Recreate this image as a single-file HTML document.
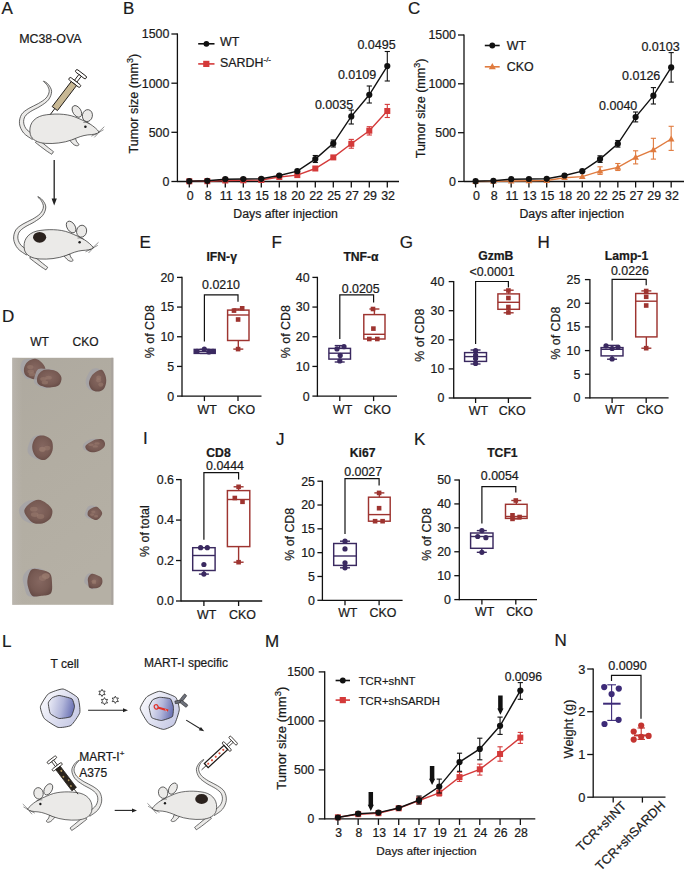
<!DOCTYPE html>
<html><head><meta charset="utf-8"><style>
html,body{margin:0;padding:0;background:#fff;}
svg{display:block;}
text{font-family:"Liberation Sans",sans-serif;stroke:#1a1a1a;stroke-width:0.22px;}
</style></head><body>
<svg width="685" height="871" viewBox="0 0 685 871" font-family="Liberation Sans, sans-serif">
<rect width="685" height="871" fill="#fff"/>

<defs>
<radialGradient id="tum" cx="0.5" cy="0.45" r="0.6">
  <stop offset="0" stop-color="#856760"/><stop offset="0.65" stop-color="#775a53"/><stop offset="1" stop-color="#654a45"/>
</radialGradient>
<linearGradient id="photo" x1="0" y1="0" x2="0.3" y2="1">
  <stop offset="0" stop-color="#aea99f"/><stop offset="0.5" stop-color="#b2ada2"/><stop offset="1" stop-color="#b5b0a5"/>
</linearGradient>
<linearGradient id="photoL" x1="0" y1="0" x2="1" y2="0">
  <stop offset="0" stop-color="#bdb8b2" stop-opacity="0.7"/><stop offset="1" stop-color="#bdb8b2" stop-opacity="0"/>
</linearGradient>
<linearGradient id="nuc" x1="0" y1="0" x2="1" y2="0.2">
  <stop offset="0" stop-color="#f0f1f9"/><stop offset="0.6" stop-color="#b2b6da"/><stop offset="1" stop-color="#7279b8"/>
</linearGradient>
<linearGradient id="cyt" x1="0" y1="0.2" x2="1" y2="0.8">
  <stop offset="0" stop-color="#fafafd"/><stop offset="1" stop-color="#c4c7e4"/>
</linearGradient>
</defs>
<g transform="translate(5.8,-115.6)">
  <path d="M29.44,250.96 C28.07,250.05 23.15,247.53 21.23,245.49 C19.32,243.45 18.27,240.98 17.93,238.73 C17.60,236.49 18.03,233.99 19.21,232.04 C20.39,230.08 22.46,228.70 24.99,227.00 C27.52,225.31 31.43,223.82 34.38,221.90 C37.32,219.97 40.76,217.93 42.66,215.45 C44.56,212.98 45.81,209.60 45.80,207.04 C45.79,204.49 43.89,201.85 42.58,200.11 C41.28,198.37 38.73,197.20 37.97,196.61 L37.63,196.99 C38.27,197.64 40.46,199.23 41.42,200.89 C42.38,202.55 43.58,204.85 43.40,206.96 C43.22,209.07 42.14,211.52 40.34,213.55 C38.54,215.57 35.51,217.36 32.62,219.10 C29.73,220.84 25.82,222.19 23.01,224.00 C20.21,225.80 17.35,227.42 15.79,229.96 C14.23,232.51 13.34,236.18 13.67,239.27 C14.00,242.36 15.62,245.88 17.77,248.51 C19.91,251.14 25.09,253.95 26.56,255.04 Z" fill="#ebeae8" stroke="#262626" stroke-width="0.7" stroke-linejoin="round"/>
  <path d="M29.69,258.14 C30.53,258.79 32.98,260.71 34.76,262.07 C36.54,263.43 38.54,264.97 40.39,266.28 C42.24,267.59 44.95,269.30 45.87,269.90 L47.73,267.30 C46.88,266.64 44.36,264.71 42.61,263.32 C40.86,261.93 38.96,260.34 37.24,258.93 C35.52,257.52 33.13,255.54 32.31,254.86 Z" fill="#ebeae8" stroke="#262626" stroke-width="0.7" stroke-linejoin="round"/>
  <path d="M63.5,255.5 C66,258 67.5,260.8 70.5,261.3 C73.2,261.7 73.8,259.8 72.2,258.8 C70.8,257.8 70.2,256 69.8,254 Z" fill="#ebeae8" stroke="#262626" stroke-width="0.7"/>
  <ellipse cx="71.1" cy="227" rx="4.0" ry="6.4" transform="rotate(-32 71.1 227)" fill="#ebeae8" stroke="#262626" stroke-width="0.7"/>
  <path d="M24.5,250 C22.5,241 27,233.5 37,231 C47,229 60,229 69,232.5 C75,235 80,237 84,239.5 C88,242 91.5,245 93.5,247.8 C91,249.8 87,250.2 82,250.5 C77,251 72,253 66,255.5 C58,258.5 48,259.5 40,259 C32,258.5 26,255.5 24.5,250 Z" fill="#ebeae8" stroke="#262626" stroke-width="0.7"/>
  <ellipse cx="81.6" cy="231.2" rx="5.0" ry="6.0" transform="rotate(12 81.6 231.2)" fill="#ebeae8" stroke="#262626" stroke-width="0.7"/>
  <path d="M77.5,238 C80,237.5 82.5,238.5 84,239.5" fill="none" stroke="#262626" stroke-width="0.5"/>
  <circle cx="79.6" cy="242.3" r="1.25" fill="#1a1a1a"/>
  <path d="M92.5,248 L98.5,242.3 M92.5,248.3 L97.8,245.3 M91.5,249 L85.5,251.8 M92,249.3 L88.5,253" stroke="#262626" stroke-width="0.5" fill="none"/>
</g>
<g transform="translate(81,74.2) rotate(127.3)">
  <rect x="-1.5" y="-6.5" width="3" height="13" rx="1.5" fill="#fff" stroke="#1e1a17" stroke-width="0.9"/>
  <rect x="1.5" y="-1.5" width="7.3" height="3" fill="#fff" stroke="#1e1a17" stroke-width="0.9"/>
  <rect x="8.8" y="-7" width="3" height="14" rx="1.5" fill="#fff" stroke="#1e1a17" stroke-width="0.9"/>
  <line x1="43" y1="0" x2="50.7" y2="0" stroke="#1e1a17" stroke-width="0.9"/>
<rect x="11.8" y="-3.3" width="31.4" height="6.6" fill="#c8b894" stroke="#1e1a17" stroke-width="0.9"/></g>
<polygon points="54.2,205.5 51.6,198.5 56.8,198.5" fill="#222"/>
<g>
  <path d="M29.44,250.96 C28.07,250.05 23.15,247.53 21.23,245.49 C19.32,243.45 18.27,240.98 17.93,238.73 C17.60,236.49 18.03,233.99 19.21,232.04 C20.39,230.08 22.46,228.70 24.99,227.00 C27.52,225.31 31.43,223.82 34.38,221.90 C37.32,219.97 40.76,217.93 42.66,215.45 C44.56,212.98 45.81,209.60 45.80,207.04 C45.79,204.49 43.89,201.85 42.58,200.11 C41.28,198.37 38.73,197.20 37.97,196.61 L37.63,196.99 C38.27,197.64 40.46,199.23 41.42,200.89 C42.38,202.55 43.58,204.85 43.40,206.96 C43.22,209.07 42.14,211.52 40.34,213.55 C38.54,215.57 35.51,217.36 32.62,219.10 C29.73,220.84 25.82,222.19 23.01,224.00 C20.21,225.80 17.35,227.42 15.79,229.96 C14.23,232.51 13.34,236.18 13.67,239.27 C14.00,242.36 15.62,245.88 17.77,248.51 C19.91,251.14 25.09,253.95 26.56,255.04 Z" fill="#ebeae8" stroke="#262626" stroke-width="0.7" stroke-linejoin="round"/>
  <path d="M29.69,258.14 C30.53,258.79 32.98,260.71 34.76,262.07 C36.54,263.43 38.54,264.97 40.39,266.28 C42.24,267.59 44.95,269.30 45.87,269.90 L47.73,267.30 C46.88,266.64 44.36,264.71 42.61,263.32 C40.86,261.93 38.96,260.34 37.24,258.93 C35.52,257.52 33.13,255.54 32.31,254.86 Z" fill="#ebeae8" stroke="#262626" stroke-width="0.7" stroke-linejoin="round"/>
  <path d="M63.5,255.5 C66,258 67.5,260.8 70.5,261.3 C73.2,261.7 73.8,259.8 72.2,258.8 C70.8,257.8 70.2,256 69.8,254 Z" fill="#ebeae8" stroke="#262626" stroke-width="0.7"/>
  <ellipse cx="71.1" cy="227" rx="4.0" ry="6.4" transform="rotate(-32 71.1 227)" fill="#ebeae8" stroke="#262626" stroke-width="0.7"/>
  <path d="M24.5,250 C22.5,241 27,233.5 37,231 C47,229 60,229 69,232.5 C75,235 80,237 84,239.5 C88,242 91.5,245 93.5,247.8 C91,249.8 87,250.2 82,250.5 C77,251 72,253 66,255.5 C58,258.5 48,259.5 40,259 C32,258.5 26,255.5 24.5,250 Z" fill="#ebeae8" stroke="#262626" stroke-width="0.7"/>
  <ellipse cx="81.6" cy="231.2" rx="5.0" ry="6.0" transform="rotate(12 81.6 231.2)" fill="#ebeae8" stroke="#262626" stroke-width="0.7"/>
  <path d="M77.5,238 C80,237.5 82.5,238.5 84,239.5" fill="none" stroke="#262626" stroke-width="0.5"/>
  <circle cx="79.6" cy="242.3" r="1.25" fill="#1a1a1a"/>
  <path d="M92.5,248 L98.5,242.3 M92.5,248.3 L97.8,245.3 M91.5,249 L85.5,251.8 M92,249.3 L88.5,253" stroke="#262626" stroke-width="0.5" fill="none"/>
</g>
<ellipse cx="39.6" cy="237.3" rx="6.6" ry="5.4" fill="#2b221e"/>
<rect x="12.3" y="357.8" width="101" height="247" fill="url(#photo)"/>
<rect x="12.3" y="357.8" width="10" height="247" fill="url(#photoL)"/>
<rect x="111.3" y="357.8" width="2" height="247" fill="#a9a39d"/>
<path d="M40.97,366.85 C41.22,369.15 41.39,371.87 40.29,373.63 C39.18,375.39 36.55,376.50 34.33,377.39 C32.12,378.28 29.01,379.63 27.00,378.97 C25.00,378.32 23.42,375.47 22.32,373.45 C21.21,371.44 20.17,369.13 20.37,366.89 C20.57,364.66 21.73,361.41 23.53,360.04 C25.32,358.66 28.59,358.67 31.13,358.64 C33.68,358.60 37.15,358.46 38.79,359.83 C40.43,361.20 40.72,364.55 40.97,366.85 Z" fill="#a4a3a8" opacity="0.8"/>
<path d="M45.15,367.81 C45.78,369.86 46.49,372.87 45.44,374.83 C44.40,376.79 41.25,378.93 38.87,379.55 C36.50,380.17 33.47,379.34 31.18,378.55 C28.89,377.76 26.33,376.55 25.15,374.81 C23.96,373.06 23.66,370.27 24.08,368.09 C24.50,365.92 25.82,363.32 27.67,361.78 C29.53,360.24 32.90,358.74 35.24,358.87 C37.57,358.99 40.03,361.04 41.69,362.53 C43.34,364.02 44.53,365.76 45.15,367.81 Z" fill="url(#tum)"/>
<ellipse cx="31.9" cy="374.2" rx="3.2" ry="2.0" fill="#9a7c70" opacity="0.55"/>
<ellipse cx="30.8" cy="371.6" rx="3.2" ry="2.0" fill="#9a7c70" opacity="0.55"/>
<ellipse cx="30.3" cy="367.1" rx="3.2" ry="2.0" fill="#9a7c70" opacity="0.55"/>
<path d="M56.97,376.89 C56.84,379.04 54.37,381.10 52.86,382.95 C51.34,384.80 49.96,387.33 47.90,387.99 C45.83,388.65 42.74,387.79 40.46,386.90 C38.19,386.01 35.18,384.53 34.26,382.63 C33.33,380.73 34.25,377.76 34.93,375.49 C35.61,373.23 36.50,370.15 38.34,369.05 C40.18,367.95 43.43,368.70 45.97,368.87 C48.51,369.03 51.76,368.70 53.59,370.04 C55.42,371.38 57.09,374.74 56.97,376.89 Z" fill="#a4a3a8" opacity="0.8"/>
<path d="M61.49,377.81 C61.80,380.01 60.82,383.37 59.15,384.94 C57.49,386.52 53.92,386.93 51.49,387.25 C49.06,387.57 46.86,387.51 44.59,386.88 C42.32,386.25 39.06,385.22 37.88,383.47 C36.70,381.72 36.77,378.51 37.52,376.39 C38.27,374.26 40.29,371.82 42.38,370.70 C44.47,369.58 47.59,369.48 50.07,369.66 C52.55,369.83 55.38,370.40 57.29,371.76 C59.19,373.12 61.18,375.61 61.49,377.81 Z" fill="url(#tum)"/>
<ellipse cx="48.6" cy="377.7" rx="3.2" ry="1.9" fill="#9a7c70" opacity="0.55"/>
<ellipse cx="44.9" cy="382.5" rx="3.2" ry="1.9" fill="#9a7c70" opacity="0.55"/>
<ellipse cx="43.4" cy="378.9" rx="3.2" ry="1.9" fill="#9a7c70" opacity="0.55"/>
<path d="M103.38,381.39 C102.94,383.97 101.94,387.30 100.45,388.88 C98.96,390.47 96.37,390.87 94.44,390.92 C92.50,390.97 90.29,390.58 88.82,389.19 C87.36,387.80 85.80,384.98 85.64,382.57 C85.47,380.16 86.70,376.99 87.81,374.73 C88.93,372.47 90.58,370.03 92.35,369.03 C94.13,368.02 96.66,367.96 98.45,368.69 C100.25,369.42 102.31,371.28 103.13,373.39 C103.95,375.51 103.83,378.81 103.38,381.39 Z" fill="#a4a3a8" opacity="0.8"/>
<path d="M106.12,382.43 C105.80,384.71 104.88,387.69 103.47,389.22 C102.05,390.75 99.57,391.49 97.64,391.59 C95.70,391.69 93.31,391.21 91.86,389.83 C90.41,388.46 89.03,385.58 88.94,383.34 C88.84,381.10 90.17,378.28 91.29,376.40 C92.41,374.51 93.91,373.15 95.63,372.04 C97.36,370.93 100.03,369.17 101.66,369.75 C103.29,370.34 104.67,373.43 105.41,375.54 C106.16,377.65 106.45,380.15 106.12,382.43 Z" fill="url(#tum)"/>
<ellipse cx="98.6" cy="380.2" rx="2.5" ry="2.2" fill="#9a7c70" opacity="0.55"/>
<ellipse cx="98.7" cy="377.8" rx="2.5" ry="2.2" fill="#9a7c70" opacity="0.55"/>
<ellipse cx="100.8" cy="384.6" rx="2.5" ry="2.2" fill="#9a7c70" opacity="0.55"/>
<path d="M50.14,447.30 C50.06,449.77 47.57,452.45 45.96,454.48 C44.35,456.52 42.57,458.95 40.49,459.52 C38.40,460.08 35.57,459.12 33.45,457.86 C31.32,456.60 28.47,454.38 27.75,451.95 C27.03,449.51 28.15,445.75 29.11,443.23 C30.07,440.72 31.59,438.20 33.49,436.84 C35.39,435.47 38.34,434.55 40.50,435.02 C42.65,435.49 44.82,437.61 46.43,439.65 C48.04,441.70 50.22,444.83 50.14,447.30 Z" fill="#a4a3a8" opacity="0.8"/>
<path d="M52.80,448.50 C52.58,451.03 51.53,453.56 50.12,455.48 C48.72,457.40 46.47,459.60 44.36,460.02 C42.25,460.45 39.31,459.34 37.46,458.03 C35.60,456.72 34.08,454.43 33.24,452.18 C32.40,449.92 31.87,447.01 32.41,444.49 C32.94,441.97 34.42,438.51 36.45,437.07 C38.47,435.62 42.05,435.29 44.55,435.83 C47.05,436.37 50.09,438.18 51.46,440.30 C52.84,442.41 53.03,445.97 52.80,448.50 Z" fill="url(#tum)"/>
<ellipse cx="42.0" cy="449.2" rx="3.1" ry="2.4" fill="#9a7c70" opacity="0.55"/>
<ellipse cx="47.2" cy="448.1" rx="3.1" ry="2.4" fill="#9a7c70" opacity="0.55"/>
<ellipse cx="42.6" cy="449.5" rx="3.1" ry="2.4" fill="#9a7c70" opacity="0.55"/>
<path d="M100.04,442.81 C100.45,444.12 101.51,445.86 100.67,447.01 C99.82,448.16 96.89,448.97 94.94,449.70 C92.99,450.43 90.81,451.44 88.97,451.39 C87.12,451.34 84.88,450.44 83.88,449.41 C82.87,448.37 82.46,446.52 82.94,445.17 C83.42,443.83 85.22,442.33 86.76,441.32 C88.30,440.31 90.28,439.46 92.18,439.10 C94.08,438.74 96.86,438.55 98.17,439.17 C99.48,439.79 99.62,441.51 100.04,442.81 Z" fill="#a4a3a8" opacity="0.8"/>
<path d="M104.95,442.97 C105.24,444.28 104.98,445.99 103.96,447.32 C102.93,448.65 100.81,450.13 98.79,450.95 C96.77,451.77 93.84,452.39 91.86,452.23 C89.89,452.06 87.99,451.02 86.92,449.97 C85.85,448.92 84.88,447.21 85.44,445.93 C86.00,444.65 88.58,443.34 90.28,442.29 C91.97,441.23 93.63,440.08 95.61,439.60 C97.60,439.13 100.65,438.87 102.21,439.43 C103.77,439.99 104.66,441.65 104.95,442.97 Z" fill="url(#tum)"/>
<ellipse cx="95.3" cy="446.4" rx="2.7" ry="1.2" fill="#9a7c70" opacity="0.55"/>
<ellipse cx="97.1" cy="443.4" rx="2.7" ry="1.2" fill="#9a7c70" opacity="0.55"/>
<ellipse cx="90.9" cy="444.8" rx="2.7" ry="1.2" fill="#9a7c70" opacity="0.55"/>
<path d="M47.32,508.74 C47.83,511.25 46.09,514.94 44.45,517.22 C42.82,519.50 40.12,521.53 37.50,522.44 C34.88,523.34 31.43,523.44 28.74,522.66 C26.06,521.88 22.99,520.03 21.40,517.76 C19.82,515.49 18.57,511.62 19.22,509.03 C19.87,506.44 22.94,503.76 25.30,502.24 C27.67,500.73 30.73,499.95 33.40,499.94 C36.08,499.93 39.04,500.71 41.36,502.18 C43.68,503.64 46.80,506.24 47.32,508.74 Z" fill="#a4a3a8" opacity="0.8"/>
<path d="M52.23,509.89 C52.86,512.41 52.04,516.26 50.39,518.51 C48.74,520.76 45.14,522.65 42.31,523.40 C39.48,524.14 35.85,523.92 33.41,522.99 C30.96,522.07 29.14,519.91 27.62,517.84 C26.10,515.76 23.95,512.94 24.29,510.56 C24.63,508.18 27.30,505.36 29.64,503.57 C31.97,501.78 35.48,499.84 38.31,499.81 C41.14,499.78 44.28,501.74 46.60,503.42 C48.92,505.10 51.60,507.37 52.23,509.89 Z" fill="url(#tum)"/>
<ellipse cx="34.7" cy="514.6" rx="3.8" ry="2.4" fill="#9a7c70" opacity="0.55"/>
<ellipse cx="40.5" cy="516.5" rx="3.8" ry="2.4" fill="#9a7c70" opacity="0.55"/>
<ellipse cx="33.8" cy="509.2" rx="3.8" ry="2.4" fill="#9a7c70" opacity="0.55"/>
<path d="M98.72,512.64 C98.65,514.16 98.83,516.08 97.95,517.06 C97.08,518.04 94.99,518.27 93.47,518.50 C91.94,518.74 90.23,519.04 88.80,518.49 C87.37,517.94 85.38,516.55 84.91,515.21 C84.45,513.87 85.43,511.96 86.02,510.45 C86.60,508.94 87.13,506.92 88.41,506.15 C89.68,505.37 92.00,505.50 93.65,505.79 C95.31,506.09 97.49,506.77 98.34,507.91 C99.18,509.05 98.78,511.12 98.72,512.64 Z" fill="#a4a3a8" opacity="0.8"/>
<path d="M102.18,513.30 C102.21,514.58 101.24,516.06 100.26,517.19 C99.29,518.31 97.79,519.83 96.35,520.04 C94.91,520.24 93.04,519.17 91.63,518.43 C90.23,517.69 88.47,516.80 87.89,515.58 C87.32,514.36 87.55,512.35 88.18,511.12 C88.81,509.88 90.29,508.91 91.65,508.19 C93.00,507.47 94.89,506.57 96.30,506.79 C97.71,507.01 99.13,508.44 100.11,509.53 C101.09,510.61 102.16,512.02 102.18,513.30 Z" fill="url(#tum)"/>
<ellipse cx="92.1" cy="514.6" rx="2.1" ry="1.3" fill="#9a7c70" opacity="0.55"/>
<ellipse cx="96.1" cy="516.2" rx="2.1" ry="1.3" fill="#9a7c70" opacity="0.55"/>
<ellipse cx="93.3" cy="511.7" rx="2.1" ry="1.3" fill="#9a7c70" opacity="0.55"/>
<path d="M47.79,581.58 C47.52,584.71 45.65,587.77 43.87,590.23 C42.09,592.69 39.78,595.46 37.10,596.33 C34.41,597.20 29.92,597.19 27.76,595.47 C25.61,593.74 24.96,589.12 24.16,585.99 C23.37,582.86 22.24,579.44 22.99,576.69 C23.74,573.93 26.35,570.92 28.67,569.48 C30.99,568.04 34.11,567.72 36.91,568.04 C39.70,568.37 43.63,569.17 45.44,571.43 C47.26,573.68 48.05,578.45 47.79,581.58 Z" fill="#a4a3a8" opacity="0.8"/>
<path d="M52.02,583.00 C52.15,586.26 52.64,591.02 50.90,593.14 C49.17,595.26 44.69,595.27 41.62,595.73 C38.55,596.19 34.71,597.29 32.47,595.90 C30.23,594.51 28.96,590.28 28.16,587.37 C27.36,584.46 27.03,581.46 27.67,578.44 C28.31,575.41 29.67,570.64 32.00,569.23 C34.33,567.82 38.65,569.27 41.66,569.99 C44.68,570.71 48.39,571.39 50.11,573.56 C51.84,575.73 51.89,579.74 52.02,583.00 Z" fill="url(#tum)"/>
<ellipse cx="45.7" cy="576.1" rx="3.8" ry="2.8" fill="#9a7c70" opacity="0.55"/>
<ellipse cx="42.7" cy="578.1" rx="3.8" ry="2.8" fill="#9a7c70" opacity="0.55"/>
<ellipse cx="46.0" cy="576.1" rx="3.8" ry="2.8" fill="#9a7c70" opacity="0.55"/>
<path d="M98.83,581.94 C98.54,583.70 98.39,585.96 97.25,587.17 C96.12,588.38 93.60,589.41 92.04,589.21 C90.48,589.01 89.19,587.12 87.90,585.96 C86.60,584.80 84.69,583.78 84.28,582.25 C83.87,580.72 84.59,578.28 85.47,576.79 C86.34,575.29 88.06,573.68 89.55,573.28 C91.03,572.88 92.79,573.85 94.36,574.40 C95.94,574.95 98.23,575.32 98.98,576.58 C99.72,577.83 99.12,580.17 98.83,581.94 Z" fill="#a4a3a8" opacity="0.8"/>
<path d="M102.32,582.83 C102.00,584.39 100.87,586.17 99.62,587.10 C98.37,588.02 96.53,588.25 94.83,588.35 C93.14,588.46 90.57,588.69 89.45,587.73 C88.33,586.78 88.35,584.29 88.13,582.62 C87.90,580.95 87.49,579.19 88.12,577.71 C88.74,576.24 90.38,574.18 91.88,573.76 C93.39,573.33 95.53,574.51 97.14,575.17 C98.75,575.83 100.67,576.45 101.53,577.73 C102.40,579.00 102.63,581.26 102.32,582.83 Z" fill="url(#tum)"/>
<ellipse cx="93.7" cy="581.4" rx="2.2" ry="1.5" fill="#9a7c70" opacity="0.55"/>
<ellipse cx="94.2" cy="581.1" rx="2.2" ry="1.5" fill="#9a7c70" opacity="0.55"/>
<ellipse cx="94.1" cy="582.7" rx="2.2" ry="1.5" fill="#9a7c70" opacity="0.55"/>
<path d="M63.10,689.00 C65.56,689.33 76.41,695.83 77.80,697.80 C79.19,699.77 80.37,710.30 79.80,712.60 C79.23,714.90 72.81,724.17 71.00,725.40 C69.19,726.63 60.33,727.98 58.10,727.40 C55.88,726.82 45.77,720.23 44.30,718.50 C42.82,716.77 40.07,708.75 40.40,706.70 C40.73,704.65 46.41,695.38 48.30,693.90 C50.19,692.42 60.64,688.67 63.10,689.00 Z" fill="url(#cyt)" stroke="#2e2e2e" stroke-width="0.85"/>
<path d="M59.10,695.50 C60.51,695.57 70.80,698.00 71.90,698.80 C73.00,699.60 74.56,705.43 74.50,706.70 C74.44,707.97 72.10,715.76 71.00,716.60 C69.90,717.44 60.58,718.71 59.10,718.50 C57.62,718.29 51.07,714.72 50.30,713.60 C49.53,712.48 48.16,703.93 48.30,702.80 C48.44,701.67 51.43,698.32 52.20,697.80 C52.97,697.28 57.69,695.43 59.10,695.50 Z" fill="url(#nuc)" stroke="#2e2e2e" stroke-width="0.85"/>
<path d="M159.60,691.30 C162.01,691.33 174.06,695.77 175.70,697.30 C177.34,698.83 179.42,707.43 179.30,709.70 C179.18,711.97 175.62,722.86 174.30,724.50 C172.98,726.14 165.63,729.48 163.50,729.40 C161.37,729.32 150.64,725.23 148.70,723.50 C146.76,721.77 140.36,710.92 140.20,708.70 C140.04,706.48 145.18,698.35 146.80,696.90 C148.42,695.45 157.19,691.27 159.60,691.30 Z" fill="url(#cyt)" stroke="#2e2e2e" stroke-width="0.85"/>
<path d="M159.60,697.30 C160.86,697.23 169.41,698.13 170.40,698.80 C171.39,699.47 173.26,705.43 173.40,706.70 C173.54,707.97 173.25,715.61 172.40,716.60 C171.55,717.59 162.98,720.43 161.50,720.50 C160.02,720.57 152.59,718.59 151.70,717.60 C150.81,716.61 149.03,707.97 149.10,706.70 C149.17,705.43 151.95,700.47 152.70,699.80 C153.45,699.13 158.34,697.37 159.60,697.30 Z" fill="url(#nuc)" stroke="#2e2e2e" stroke-width="0.85"/>
<ellipse cx="156.2" cy="706.9" rx="1.9" ry="2.3" transform="rotate(-20 156.2 706.9)" fill="none" stroke="#e0322a" stroke-width="1.2"/>
<path d="M157.8,707.6 L168.2,710.6" stroke="#e0322a" stroke-width="2.1" fill="none"/>
<path d="M165.5,709.2 L166.5,711.5" stroke="#fff" stroke-width="0.5" fill="none"/>
<g stroke="#2a2a2a" stroke-width="0.6" fill="#6d717c"><rect x="-0.5" y="-1.3" width="6" height="2.6" transform="translate(175.6,702.3) rotate(-10)"/><rect x="0" y="-1.5" width="8.2" height="3" rx="0.8" transform="translate(180.6,701.2) rotate(-52)"/><rect x="0" y="-1.5" width="8.2" height="3" rx="0.8" transform="translate(180.6,701.2) rotate(38)"/></g>
<polygon points="102.00,689.30 102.99,691.19 105.12,691.10 103.98,692.90 105.12,694.70 102.99,694.61 102.00,696.50 101.01,694.61 98.88,694.70 100.02,692.90 98.88,691.10 101.01,691.19" fill="#fff" stroke="#222" stroke-width="0.8"/>
<polygon points="104.50,697.60 105.49,699.49 107.62,699.40 106.48,701.20 107.62,703.00 105.49,702.91 104.50,704.80 103.51,702.91 101.38,703.00 102.52,701.20 101.38,699.40 103.51,699.49" fill="#fff" stroke="#222" stroke-width="0.8"/>
<polygon points="115.30,696.20 116.29,698.09 118.42,698.00 117.28,699.80 118.42,701.60 116.29,701.51 115.30,703.40 114.31,701.51 112.18,701.60 113.32,699.80 112.18,698.00 114.31,698.09" fill="#fff" stroke="#222" stroke-width="0.8"/>
<polygon points="128,710.3 123,708.3 123,712.3" fill="#222"/>
<polygon points="204.2,731.2 198.8,730.3 200.9,726.9" fill="#222"/>
<g transform="translate(114.4,571.4) scale(-0.93,0.96)">
  <path d="M29.44,250.96 C28.07,250.05 23.15,247.53 21.23,245.49 C19.32,243.45 18.27,240.98 17.93,238.73 C17.60,236.49 18.03,233.99 19.21,232.04 C20.39,230.08 22.46,228.70 24.99,227.00 C27.52,225.31 31.43,223.82 34.38,221.90 C37.32,219.97 40.76,217.93 42.66,215.45 C44.56,212.98 45.81,209.60 45.80,207.04 C45.79,204.49 43.89,201.85 42.58,200.11 C41.28,198.37 38.73,197.20 37.97,196.61 L37.63,196.99 C38.27,197.64 40.46,199.23 41.42,200.89 C42.38,202.55 43.58,204.85 43.40,206.96 C43.22,209.07 42.14,211.52 40.34,213.55 C38.54,215.57 35.51,217.36 32.62,219.10 C29.73,220.84 25.82,222.19 23.01,224.00 C20.21,225.80 17.35,227.42 15.79,229.96 C14.23,232.51 13.34,236.18 13.67,239.27 C14.00,242.36 15.62,245.88 17.77,248.51 C19.91,251.14 25.09,253.95 26.56,255.04 Z" fill="#ebeae8" stroke="#262626" stroke-width="0.7" stroke-linejoin="round"/>
  <path d="M29.69,258.14 C30.53,258.79 32.98,260.71 34.76,262.07 C36.54,263.43 38.54,264.97 40.39,266.28 C42.24,267.59 44.95,269.30 45.87,269.90 L47.73,267.30 C46.88,266.64 44.36,264.71 42.61,263.32 C40.86,261.93 38.96,260.34 37.24,258.93 C35.52,257.52 33.13,255.54 32.31,254.86 Z" fill="#ebeae8" stroke="#262626" stroke-width="0.7" stroke-linejoin="round"/>
  <path d="M63.5,255.5 C66,258 67.5,260.8 70.5,261.3 C73.2,261.7 73.8,259.8 72.2,258.8 C70.8,257.8 70.2,256 69.8,254 Z" fill="#ebeae8" stroke="#262626" stroke-width="0.7"/>
  <ellipse cx="71.1" cy="227" rx="4.0" ry="6.4" transform="rotate(-32 71.1 227)" fill="#ebeae8" stroke="#262626" stroke-width="0.7"/>
  <path d="M24.5,250 C22.5,241 27,233.5 37,231 C47,229 60,229 69,232.5 C75,235 80,237 84,239.5 C88,242 91.5,245 93.5,247.8 C91,249.8 87,250.2 82,250.5 C77,251 72,253 66,255.5 C58,258.5 48,259.5 40,259 C32,258.5 26,255.5 24.5,250 Z" fill="#ebeae8" stroke="#262626" stroke-width="0.7"/>
  <ellipse cx="81.6" cy="231.2" rx="5.0" ry="6.0" transform="rotate(12 81.6 231.2)" fill="#ebeae8" stroke="#262626" stroke-width="0.7"/>
  <path d="M77.5,238 C80,237.5 82.5,238.5 84,239.5" fill="none" stroke="#262626" stroke-width="0.5"/>
  <circle cx="79.6" cy="242.3" r="1.25" fill="#1a1a1a"/>
  <path d="M92.5,248 L98.5,242.3 M92.5,248.3 L97.8,245.3 M91.5,249 L85.5,251.8 M92,249.3 L88.5,253" stroke="#262626" stroke-width="0.5" fill="none"/>
</g>
<g transform="translate(51.9,759.9) rotate(52.7) scale(0.85)">
  <rect x="-1.5" y="-6.5" width="3" height="13" rx="1.5" fill="#fff" stroke="#1e1a17" stroke-width="0.9"/>
  <rect x="1.5" y="-1.5" width="7.3" height="3" fill="#fff" stroke="#1e1a17" stroke-width="0.9"/>
  <rect x="8.8" y="-7" width="3" height="14" rx="1.5" fill="#fff" stroke="#1e1a17" stroke-width="0.9"/>
  <line x1="43" y1="0" x2="50.7" y2="0" stroke="#1e1a17" stroke-width="0.9"/>
<rect x="11.8" y="-3.3" width="31.4" height="6.6" fill="#2b241c" stroke="#1e1a17" stroke-width="0.9"/><circle cx="17" cy="-1" r="1.2" fill="#b59a62"/><circle cx="24" cy="1.3" r="1.1" fill="#b59a62"/><circle cx="31" cy="-1.2" r="1" fill="#b59a62"/><circle cx="38" cy="0.8" r="1.1" fill="#b59a62"/></g>
<g transform="translate(239.0,570.7) scale(-0.93,0.96)">
  <path d="M29.44,250.96 C28.07,250.05 23.15,247.53 21.23,245.49 C19.32,243.45 18.27,240.98 17.93,238.73 C17.60,236.49 18.03,233.99 19.21,232.04 C20.39,230.08 22.46,228.70 24.99,227.00 C27.52,225.31 31.43,223.82 34.38,221.90 C37.32,219.97 40.76,217.93 42.66,215.45 C44.56,212.98 45.81,209.60 45.80,207.04 C45.79,204.49 43.89,201.85 42.58,200.11 C41.28,198.37 38.73,197.20 37.97,196.61 L37.63,196.99 C38.27,197.64 40.46,199.23 41.42,200.89 C42.38,202.55 43.58,204.85 43.40,206.96 C43.22,209.07 42.14,211.52 40.34,213.55 C38.54,215.57 35.51,217.36 32.62,219.10 C29.73,220.84 25.82,222.19 23.01,224.00 C20.21,225.80 17.35,227.42 15.79,229.96 C14.23,232.51 13.34,236.18 13.67,239.27 C14.00,242.36 15.62,245.88 17.77,248.51 C19.91,251.14 25.09,253.95 26.56,255.04 Z" fill="#ebeae8" stroke="#262626" stroke-width="0.7" stroke-linejoin="round"/>
  <path d="M29.69,258.14 C30.53,258.79 32.98,260.71 34.76,262.07 C36.54,263.43 38.54,264.97 40.39,266.28 C42.24,267.59 44.95,269.30 45.87,269.90 L47.73,267.30 C46.88,266.64 44.36,264.71 42.61,263.32 C40.86,261.93 38.96,260.34 37.24,258.93 C35.52,257.52 33.13,255.54 32.31,254.86 Z" fill="#ebeae8" stroke="#262626" stroke-width="0.7" stroke-linejoin="round"/>
  <path d="M63.5,255.5 C66,258 67.5,260.8 70.5,261.3 C73.2,261.7 73.8,259.8 72.2,258.8 C70.8,257.8 70.2,256 69.8,254 Z" fill="#ebeae8" stroke="#262626" stroke-width="0.7"/>
  <ellipse cx="71.1" cy="227" rx="4.0" ry="6.4" transform="rotate(-32 71.1 227)" fill="#ebeae8" stroke="#262626" stroke-width="0.7"/>
  <path d="M24.5,250 C22.5,241 27,233.5 37,231 C47,229 60,229 69,232.5 C75,235 80,237 84,239.5 C88,242 91.5,245 93.5,247.8 C91,249.8 87,250.2 82,250.5 C77,251 72,253 66,255.5 C58,258.5 48,259.5 40,259 C32,258.5 26,255.5 24.5,250 Z" fill="#ebeae8" stroke="#262626" stroke-width="0.7"/>
  <ellipse cx="81.6" cy="231.2" rx="5.0" ry="6.0" transform="rotate(12 81.6 231.2)" fill="#ebeae8" stroke="#262626" stroke-width="0.7"/>
  <path d="M77.5,238 C80,237.5 82.5,238.5 84,239.5" fill="none" stroke="#262626" stroke-width="0.5"/>
  <circle cx="79.6" cy="242.3" r="1.25" fill="#1a1a1a"/>
  <path d="M92.5,248 L98.5,242.3 M92.5,248.3 L97.8,245.3 M91.5,249 L85.5,251.8 M92,249.3 L88.5,253" stroke="#262626" stroke-width="0.5" fill="none"/>
</g>
<ellipse cx="201.6" cy="799" rx="6.4" ry="5.1" fill="#2b221e"/>
<g transform="translate(233.2,740.6) rotate(137.2) scale(0.85)">
  <rect x="-1.5" y="-6.5" width="3" height="13" rx="1.5" fill="#fff" stroke="#1e1a17" stroke-width="0.9"/>
  <rect x="1.5" y="-1.5" width="7.3" height="3" fill="#fff" stroke="#1e1a17" stroke-width="0.9"/>
  <rect x="8.8" y="-7" width="3" height="14" rx="1.5" fill="#fff" stroke="#1e1a17" stroke-width="0.9"/>
  <line x1="43" y1="0" x2="50.7" y2="0" stroke="#1e1a17" stroke-width="0.9"/>
<rect x="11.8" y="-3.3" width="31.4" height="6.6" fill="#fff" stroke="#1e1a17" stroke-width="1.5"/><circle cx="16" cy="0" r="1.3" fill="#e0533f"/><circle cx="22" cy="0" r="1.3" fill="#e0533f"/><circle cx="28" cy="0" r="1.3" fill="#e0533f"/><circle cx="34" cy="0" r="1.3" fill="#e0533f"/><circle cx="40" cy="0" r="1.3" fill="#e0533f"/></g>
<polygon points="137,810.4 132,808.4 132,812.4" fill="#222"/>
<text x="1.50" y="13.90" font-size="17" text-anchor="start" fill="#1a1a1a">A</text>
<text x="123.00" y="14.20" font-size="17" text-anchor="start" fill="#1a1a1a">B</text>
<text x="408.00" y="14.20" font-size="17" text-anchor="start" fill="#1a1a1a">C</text>
<text x="2.00" y="322.40" font-size="17" text-anchor="start" fill="#1a1a1a">D</text>
<text x="139.50" y="247.90" font-size="17" text-anchor="start" fill="#1a1a1a">E</text>
<text x="271.50" y="247.90" font-size="17" text-anchor="start" fill="#1a1a1a">F</text>
<text x="399.80" y="247.90" font-size="17" text-anchor="start" fill="#1a1a1a">G</text>
<text x="537.60" y="247.90" font-size="17" text-anchor="start" fill="#1a1a1a">H</text>
<text x="143.00" y="443.50" font-size="17" text-anchor="start" fill="#1a1a1a">I</text>
<text x="276.00" y="444.70" font-size="17" text-anchor="start" fill="#1a1a1a">J</text>
<text x="414.00" y="444.70" font-size="17" text-anchor="start" fill="#1a1a1a">K</text>
<text x="2.00" y="646.60" font-size="17" text-anchor="start" fill="#1a1a1a">L</text>
<text x="265.00" y="646.50" font-size="17" text-anchor="start" fill="#1a1a1a">M</text>
<text x="554.50" y="646.00" font-size="17" text-anchor="start" fill="#1a1a1a">N</text>
<line x1="177.40" y1="33.40" x2="177.40" y2="182.10" stroke="#111111" stroke-width="1.3"/>
<line x1="171.40" y1="34.00" x2="177.40" y2="34.00" stroke="#111111" stroke-width="1.3"/>
<text x="169.40" y="38.40" font-size="12.4" text-anchor="end" fill="#1a1a1a">1500</text>
<line x1="171.40" y1="83.20" x2="177.40" y2="83.20" stroke="#111111" stroke-width="1.3"/>
<text x="169.40" y="87.60" font-size="12.4" text-anchor="end" fill="#1a1a1a">1000</text>
<line x1="171.40" y1="132.30" x2="177.40" y2="132.30" stroke="#111111" stroke-width="1.3"/>
<text x="169.40" y="136.70" font-size="12.4" text-anchor="end" fill="#1a1a1a">500</text>
<line x1="171.40" y1="181.50" x2="177.40" y2="181.50" stroke="#111111" stroke-width="1.3"/>
<text x="169.40" y="185.90" font-size="12.4" text-anchor="end" fill="#1a1a1a">0</text>
<line x1="177.40" y1="181.50" x2="399.00" y2="181.50" stroke="#111111" stroke-width="1.3"/>
<line x1="189.30" y1="181.50" x2="189.30" y2="187.50" stroke="#111111" stroke-width="1.3"/>
<text x="190.10" y="200.20" font-size="12.4" text-anchor="middle" fill="#1a1a1a">0</text>
<line x1="207.30" y1="181.50" x2="207.30" y2="187.50" stroke="#111111" stroke-width="1.3"/>
<text x="208.10" y="200.20" font-size="12.4" text-anchor="middle" fill="#1a1a1a">8</text>
<line x1="225.30" y1="181.50" x2="225.30" y2="187.50" stroke="#111111" stroke-width="1.3"/>
<text x="226.10" y="200.20" font-size="12.4" text-anchor="middle" fill="#1a1a1a">11</text>
<line x1="243.30" y1="181.50" x2="243.30" y2="187.50" stroke="#111111" stroke-width="1.3"/>
<text x="244.10" y="200.20" font-size="12.4" text-anchor="middle" fill="#1a1a1a">13</text>
<line x1="261.30" y1="181.50" x2="261.30" y2="187.50" stroke="#111111" stroke-width="1.3"/>
<text x="262.10" y="200.20" font-size="12.4" text-anchor="middle" fill="#1a1a1a">15</text>
<line x1="279.30" y1="181.50" x2="279.30" y2="187.50" stroke="#111111" stroke-width="1.3"/>
<text x="280.10" y="200.20" font-size="12.4" text-anchor="middle" fill="#1a1a1a">18</text>
<line x1="297.30" y1="181.50" x2="297.30" y2="187.50" stroke="#111111" stroke-width="1.3"/>
<text x="298.10" y="200.20" font-size="12.4" text-anchor="middle" fill="#1a1a1a">20</text>
<line x1="315.30" y1="181.50" x2="315.30" y2="187.50" stroke="#111111" stroke-width="1.3"/>
<text x="316.10" y="200.20" font-size="12.4" text-anchor="middle" fill="#1a1a1a">22</text>
<line x1="333.30" y1="181.50" x2="333.30" y2="187.50" stroke="#111111" stroke-width="1.3"/>
<text x="334.10" y="200.20" font-size="12.4" text-anchor="middle" fill="#1a1a1a">25</text>
<line x1="351.30" y1="181.50" x2="351.30" y2="187.50" stroke="#111111" stroke-width="1.3"/>
<text x="352.10" y="200.20" font-size="12.4" text-anchor="middle" fill="#1a1a1a">27</text>
<line x1="369.30" y1="181.50" x2="369.30" y2="187.50" stroke="#111111" stroke-width="1.3"/>
<text x="370.10" y="200.20" font-size="12.4" text-anchor="middle" fill="#1a1a1a">29</text>
<line x1="387.30" y1="181.50" x2="387.30" y2="187.50" stroke="#111111" stroke-width="1.3"/>
<text x="388.10" y="200.20" font-size="12.4" text-anchor="middle" fill="#1a1a1a">32</text>
<text x="138.30" y="103.60" font-size="12.6" text-anchor="middle" fill="#1a1a1a" transform="rotate(-90 138.30 103.60)">Tumor size (mm<tspan font-size="9" dy="-5">3</tspan><tspan dy="5">)</tspan></text>
<text x="285.60" y="218.00" font-size="12.3" text-anchor="middle" fill="#1a1a1a">Days after injection</text>
<polyline points="189.30,181.30 207.30,181.20 225.30,180.50 243.30,180.30 261.30,180.00 279.30,177.00 297.30,175.10 315.30,168.50 333.30,157.40 351.30,143.80 369.30,130.70 387.30,111.00" stroke="#d43a3a" stroke-width="1.4" fill="none"/>
<line x1="351.30" y1="139.40" x2="351.30" y2="148.20" stroke="#d43a3a" stroke-width="1.1"/>
<line x1="348.70" y1="139.40" x2="353.90" y2="139.40" stroke="#d43a3a" stroke-width="1.1"/>
<line x1="348.70" y1="148.20" x2="353.90" y2="148.20" stroke="#d43a3a" stroke-width="1.1"/>
<line x1="369.30" y1="126.70" x2="369.30" y2="135.00" stroke="#d43a3a" stroke-width="1.1"/>
<line x1="366.70" y1="126.70" x2="371.90" y2="126.70" stroke="#d43a3a" stroke-width="1.1"/>
<line x1="366.70" y1="135.00" x2="371.90" y2="135.00" stroke="#d43a3a" stroke-width="1.1"/>
<line x1="387.30" y1="104.40" x2="387.30" y2="117.50" stroke="#d43a3a" stroke-width="1.1"/>
<line x1="384.70" y1="104.40" x2="389.90" y2="104.40" stroke="#d43a3a" stroke-width="1.1"/>
<line x1="384.70" y1="117.50" x2="389.90" y2="117.50" stroke="#d43a3a" stroke-width="1.1"/>
<rect x="186.30" y="178.30" width="6.00" height="6.00" stroke="none" stroke-width="1" fill="#d43a3a"/>
<rect x="204.30" y="178.20" width="6.00" height="6.00" stroke="none" stroke-width="1" fill="#d43a3a"/>
<rect x="222.30" y="177.50" width="6.00" height="6.00" stroke="none" stroke-width="1" fill="#d43a3a"/>
<rect x="240.30" y="177.30" width="6.00" height="6.00" stroke="none" stroke-width="1" fill="#d43a3a"/>
<rect x="258.30" y="177.00" width="6.00" height="6.00" stroke="none" stroke-width="1" fill="#d43a3a"/>
<rect x="276.30" y="174.00" width="6.00" height="6.00" stroke="none" stroke-width="1" fill="#d43a3a"/>
<rect x="294.30" y="172.10" width="6.00" height="6.00" stroke="none" stroke-width="1" fill="#d43a3a"/>
<rect x="312.30" y="165.50" width="6.00" height="6.00" stroke="none" stroke-width="1" fill="#d43a3a"/>
<rect x="330.30" y="154.40" width="6.00" height="6.00" stroke="none" stroke-width="1" fill="#d43a3a"/>
<rect x="348.30" y="140.80" width="6.00" height="6.00" stroke="none" stroke-width="1" fill="#d43a3a"/>
<rect x="366.30" y="127.70" width="6.00" height="6.00" stroke="none" stroke-width="1" fill="#d43a3a"/>
<rect x="384.30" y="108.00" width="6.00" height="6.00" stroke="none" stroke-width="1" fill="#d43a3a"/>
<polyline points="189.30,181.20 207.30,180.80 225.30,179.20 243.30,179.00 261.30,178.80 279.30,175.50 297.30,171.20 315.30,159.10 333.30,143.40 351.30,116.40 369.30,94.80 387.30,66.10" stroke="#111111" stroke-width="1.4" fill="none"/>
<line x1="315.30" y1="155.50" x2="315.30" y2="162.50" stroke="#111111" stroke-width="1.1"/>
<line x1="312.70" y1="155.50" x2="317.90" y2="155.50" stroke="#111111" stroke-width="1.1"/>
<line x1="312.70" y1="162.50" x2="317.90" y2="162.50" stroke="#111111" stroke-width="1.1"/>
<line x1="333.30" y1="140.00" x2="333.30" y2="147.00" stroke="#111111" stroke-width="1.1"/>
<line x1="330.70" y1="140.00" x2="335.90" y2="140.00" stroke="#111111" stroke-width="1.1"/>
<line x1="330.70" y1="147.00" x2="335.90" y2="147.00" stroke="#111111" stroke-width="1.1"/>
<line x1="351.30" y1="110.00" x2="351.30" y2="124.00" stroke="#111111" stroke-width="1.1"/>
<line x1="348.70" y1="110.00" x2="353.90" y2="110.00" stroke="#111111" stroke-width="1.1"/>
<line x1="348.70" y1="124.00" x2="353.90" y2="124.00" stroke="#111111" stroke-width="1.1"/>
<line x1="369.30" y1="86.00" x2="369.30" y2="103.00" stroke="#111111" stroke-width="1.1"/>
<line x1="366.70" y1="86.00" x2="371.90" y2="86.00" stroke="#111111" stroke-width="1.1"/>
<line x1="366.70" y1="103.00" x2="371.90" y2="103.00" stroke="#111111" stroke-width="1.1"/>
<line x1="387.30" y1="51.50" x2="387.30" y2="81.00" stroke="#111111" stroke-width="1.1"/>
<line x1="384.70" y1="51.50" x2="389.90" y2="51.50" stroke="#111111" stroke-width="1.1"/>
<line x1="384.70" y1="81.00" x2="389.90" y2="81.00" stroke="#111111" stroke-width="1.1"/>
<circle cx="189.30" cy="181.20" r="3.10" fill="#111111" stroke="none" stroke-width="0"/>
<circle cx="207.30" cy="180.80" r="3.10" fill="#111111" stroke="none" stroke-width="0"/>
<circle cx="225.30" cy="179.20" r="3.10" fill="#111111" stroke="none" stroke-width="0"/>
<circle cx="243.30" cy="179.00" r="3.10" fill="#111111" stroke="none" stroke-width="0"/>
<circle cx="261.30" cy="178.80" r="3.10" fill="#111111" stroke="none" stroke-width="0"/>
<circle cx="279.30" cy="175.50" r="3.10" fill="#111111" stroke="none" stroke-width="0"/>
<circle cx="297.30" cy="171.20" r="3.10" fill="#111111" stroke="none" stroke-width="0"/>
<circle cx="315.30" cy="159.10" r="3.10" fill="#111111" stroke="none" stroke-width="0"/>
<circle cx="333.30" cy="143.40" r="3.10" fill="#111111" stroke="none" stroke-width="0"/>
<circle cx="351.30" cy="116.40" r="3.10" fill="#111111" stroke="none" stroke-width="0"/>
<circle cx="369.30" cy="94.80" r="3.10" fill="#111111" stroke="none" stroke-width="0"/>
<circle cx="387.30" cy="66.10" r="3.10" fill="#111111" stroke="none" stroke-width="0"/>
<line x1="198.20" y1="43.80" x2="214.50" y2="43.80" stroke="#111111" stroke-width="1.6"/>
<circle cx="206.40" cy="43.80" r="2.90" fill="#111111" stroke="none" stroke-width="0"/>
<text x="220.10" y="46.30" font-size="12.4" text-anchor="start" fill="#1a1a1a">WT</text>
<line x1="198.20" y1="63.90" x2="214.50" y2="63.90" stroke="#d43a3a" stroke-width="1.6"/>
<rect x="203.20" y="60.80" width="6.20" height="6.20" stroke="none" stroke-width="1" fill="#d43a3a"/>
<text x="220.10" y="66.60" font-size="12.4" text-anchor="start" fill="#1a1a1a">SARDH<tspan font-size="8" dy="-5">-/-</tspan></text>
<text x="376.50" y="48.80" font-size="12.5" text-anchor="middle" fill="#1a1a1a">0.0495</text>
<text x="357.00" y="79.20" font-size="12.5" text-anchor="middle" fill="#1a1a1a">0.0109</text>
<text x="334.00" y="109.20" font-size="12.5" text-anchor="middle" fill="#1a1a1a">0.0035</text>
<line x1="464.00" y1="34.40" x2="464.00" y2="182.10" stroke="#111111" stroke-width="1.3"/>
<line x1="458.00" y1="35.00" x2="464.00" y2="35.00" stroke="#111111" stroke-width="1.3"/>
<text x="456.00" y="39.40" font-size="12.4" text-anchor="end" fill="#1a1a1a">1500</text>
<line x1="458.00" y1="83.80" x2="464.00" y2="83.80" stroke="#111111" stroke-width="1.3"/>
<text x="456.00" y="88.20" font-size="12.4" text-anchor="end" fill="#1a1a1a">1000</text>
<line x1="458.00" y1="132.70" x2="464.00" y2="132.70" stroke="#111111" stroke-width="1.3"/>
<text x="456.00" y="137.10" font-size="12.4" text-anchor="end" fill="#1a1a1a">500</text>
<line x1="458.00" y1="181.50" x2="464.00" y2="181.50" stroke="#111111" stroke-width="1.3"/>
<text x="456.00" y="185.90" font-size="12.4" text-anchor="end" fill="#1a1a1a">0</text>
<line x1="464.00" y1="181.50" x2="684.00" y2="181.50" stroke="#111111" stroke-width="1.3"/>
<line x1="475.60" y1="181.50" x2="475.60" y2="187.50" stroke="#111111" stroke-width="1.3"/>
<text x="476.40" y="200.20" font-size="12.4" text-anchor="middle" fill="#1a1a1a">0</text>
<line x1="493.38" y1="181.50" x2="493.38" y2="187.50" stroke="#111111" stroke-width="1.3"/>
<text x="494.18" y="200.20" font-size="12.4" text-anchor="middle" fill="#1a1a1a">8</text>
<line x1="511.16" y1="181.50" x2="511.16" y2="187.50" stroke="#111111" stroke-width="1.3"/>
<text x="511.96" y="200.20" font-size="12.4" text-anchor="middle" fill="#1a1a1a">11</text>
<line x1="528.94" y1="181.50" x2="528.94" y2="187.50" stroke="#111111" stroke-width="1.3"/>
<text x="529.74" y="200.20" font-size="12.4" text-anchor="middle" fill="#1a1a1a">13</text>
<line x1="546.72" y1="181.50" x2="546.72" y2="187.50" stroke="#111111" stroke-width="1.3"/>
<text x="547.52" y="200.20" font-size="12.4" text-anchor="middle" fill="#1a1a1a">15</text>
<line x1="564.50" y1="181.50" x2="564.50" y2="187.50" stroke="#111111" stroke-width="1.3"/>
<text x="565.30" y="200.20" font-size="12.4" text-anchor="middle" fill="#1a1a1a">18</text>
<line x1="582.28" y1="181.50" x2="582.28" y2="187.50" stroke="#111111" stroke-width="1.3"/>
<text x="583.08" y="200.20" font-size="12.4" text-anchor="middle" fill="#1a1a1a">20</text>
<line x1="600.06" y1="181.50" x2="600.06" y2="187.50" stroke="#111111" stroke-width="1.3"/>
<text x="600.86" y="200.20" font-size="12.4" text-anchor="middle" fill="#1a1a1a">22</text>
<line x1="617.84" y1="181.50" x2="617.84" y2="187.50" stroke="#111111" stroke-width="1.3"/>
<text x="618.64" y="200.20" font-size="12.4" text-anchor="middle" fill="#1a1a1a">25</text>
<line x1="635.62" y1="181.50" x2="635.62" y2="187.50" stroke="#111111" stroke-width="1.3"/>
<text x="636.42" y="200.20" font-size="12.4" text-anchor="middle" fill="#1a1a1a">27</text>
<line x1="653.40" y1="181.50" x2="653.40" y2="187.50" stroke="#111111" stroke-width="1.3"/>
<text x="654.20" y="200.20" font-size="12.4" text-anchor="middle" fill="#1a1a1a">29</text>
<line x1="671.18" y1="181.50" x2="671.18" y2="187.50" stroke="#111111" stroke-width="1.3"/>
<text x="671.98" y="200.20" font-size="12.4" text-anchor="middle" fill="#1a1a1a">32</text>
<text x="425.30" y="108.30" font-size="12.6" text-anchor="middle" fill="#1a1a1a" transform="rotate(-90 425.30 108.30)">Tumor size (mm<tspan font-size="9" dy="-5">3</tspan><tspan dy="5">)</tspan></text>
<text x="571.70" y="218.00" font-size="12.3" text-anchor="middle" fill="#1a1a1a">Days after injection</text>
<polyline points="475.60,181.50 493.38,181.40 511.16,181.00 528.94,180.80 546.72,180.50 564.50,177.70 582.28,176.60 600.06,171.20 617.84,167.40 635.62,157.40 653.40,149.90 671.18,139.00" stroke="#e07b3f" stroke-width="1.4" fill="none"/>
<line x1="600.06" y1="166.80" x2="600.06" y2="174.40" stroke="#e07b3f" stroke-width="1.1"/>
<line x1="597.46" y1="166.80" x2="602.66" y2="166.80" stroke="#e07b3f" stroke-width="1.1"/>
<line x1="597.46" y1="174.40" x2="602.66" y2="174.40" stroke="#e07b3f" stroke-width="1.1"/>
<line x1="617.84" y1="163.50" x2="617.84" y2="170.50" stroke="#e07b3f" stroke-width="1.1"/>
<line x1="615.24" y1="163.50" x2="620.44" y2="163.50" stroke="#e07b3f" stroke-width="1.1"/>
<line x1="615.24" y1="170.50" x2="620.44" y2="170.50" stroke="#e07b3f" stroke-width="1.1"/>
<line x1="635.62" y1="150.80" x2="635.62" y2="163.90" stroke="#e07b3f" stroke-width="1.1"/>
<line x1="633.02" y1="150.80" x2="638.22" y2="150.80" stroke="#e07b3f" stroke-width="1.1"/>
<line x1="633.02" y1="163.90" x2="638.22" y2="163.90" stroke="#e07b3f" stroke-width="1.1"/>
<line x1="653.40" y1="138.30" x2="653.40" y2="159.10" stroke="#e07b3f" stroke-width="1.1"/>
<line x1="650.80" y1="138.30" x2="656.00" y2="138.30" stroke="#e07b3f" stroke-width="1.1"/>
<line x1="650.80" y1="159.10" x2="656.00" y2="159.10" stroke="#e07b3f" stroke-width="1.1"/>
<line x1="671.18" y1="126.30" x2="671.18" y2="150.40" stroke="#e07b3f" stroke-width="1.1"/>
<line x1="668.58" y1="126.30" x2="673.78" y2="126.30" stroke="#e07b3f" stroke-width="1.1"/>
<line x1="668.58" y1="150.40" x2="673.78" y2="150.40" stroke="#e07b3f" stroke-width="1.1"/>
<polygon points="475.60,177.90 472.30,183.90 478.90,183.90" fill="#e07b3f"/>
<polygon points="493.38,177.80 490.08,183.80 496.68,183.80" fill="#e07b3f"/>
<polygon points="511.16,177.40 507.86,183.40 514.46,183.40" fill="#e07b3f"/>
<polygon points="528.94,177.20 525.64,183.20 532.24,183.20" fill="#e07b3f"/>
<polygon points="546.72,176.90 543.42,182.90 550.02,182.90" fill="#e07b3f"/>
<polygon points="564.50,174.10 561.20,180.10 567.80,180.10" fill="#e07b3f"/>
<polygon points="582.28,173.00 578.98,179.00 585.58,179.00" fill="#e07b3f"/>
<polygon points="600.06,167.60 596.76,173.60 603.36,173.60" fill="#e07b3f"/>
<polygon points="617.84,163.80 614.54,169.80 621.14,169.80" fill="#e07b3f"/>
<polygon points="635.62,153.80 632.32,159.80 638.92,159.80" fill="#e07b3f"/>
<polygon points="653.40,146.30 650.10,152.30 656.70,152.30" fill="#e07b3f"/>
<polygon points="671.18,135.40 667.88,141.40 674.48,141.40" fill="#e07b3f"/>
<polyline points="475.60,181.20 493.38,180.80 511.16,179.20 528.94,179.00 546.72,178.80 564.50,175.50 582.28,171.20 600.06,159.10 617.84,143.80 635.62,117.10 653.40,95.70 671.18,67.40" stroke="#111111" stroke-width="1.4" fill="none"/>
<line x1="600.06" y1="155.80" x2="600.06" y2="162.40" stroke="#111111" stroke-width="1.1"/>
<line x1="597.46" y1="155.80" x2="602.66" y2="155.80" stroke="#111111" stroke-width="1.1"/>
<line x1="597.46" y1="162.40" x2="602.66" y2="162.40" stroke="#111111" stroke-width="1.1"/>
<line x1="617.84" y1="140.50" x2="617.84" y2="147.10" stroke="#111111" stroke-width="1.1"/>
<line x1="615.24" y1="140.50" x2="620.44" y2="140.50" stroke="#111111" stroke-width="1.1"/>
<line x1="615.24" y1="147.10" x2="620.44" y2="147.10" stroke="#111111" stroke-width="1.1"/>
<line x1="635.62" y1="112.00" x2="635.62" y2="121.90" stroke="#111111" stroke-width="1.1"/>
<line x1="633.02" y1="112.00" x2="638.22" y2="112.00" stroke="#111111" stroke-width="1.1"/>
<line x1="633.02" y1="121.90" x2="638.22" y2="121.90" stroke="#111111" stroke-width="1.1"/>
<line x1="653.40" y1="87.60" x2="653.40" y2="104.00" stroke="#111111" stroke-width="1.1"/>
<line x1="650.80" y1="87.60" x2="656.00" y2="87.60" stroke="#111111" stroke-width="1.1"/>
<line x1="650.80" y1="104.00" x2="656.00" y2="104.00" stroke="#111111" stroke-width="1.1"/>
<line x1="671.18" y1="52.60" x2="671.18" y2="82.10" stroke="#111111" stroke-width="1.1"/>
<line x1="668.58" y1="52.60" x2="673.78" y2="52.60" stroke="#111111" stroke-width="1.1"/>
<line x1="668.58" y1="82.10" x2="673.78" y2="82.10" stroke="#111111" stroke-width="1.1"/>
<circle cx="475.60" cy="181.20" r="3.10" fill="#111111" stroke="none" stroke-width="0"/>
<circle cx="493.38" cy="180.80" r="3.10" fill="#111111" stroke="none" stroke-width="0"/>
<circle cx="511.16" cy="179.20" r="3.10" fill="#111111" stroke="none" stroke-width="0"/>
<circle cx="528.94" cy="179.00" r="3.10" fill="#111111" stroke="none" stroke-width="0"/>
<circle cx="546.72" cy="178.80" r="3.10" fill="#111111" stroke="none" stroke-width="0"/>
<circle cx="564.50" cy="175.50" r="3.10" fill="#111111" stroke="none" stroke-width="0"/>
<circle cx="582.28" cy="171.20" r="3.10" fill="#111111" stroke="none" stroke-width="0"/>
<circle cx="600.06" cy="159.10" r="3.10" fill="#111111" stroke="none" stroke-width="0"/>
<circle cx="617.84" cy="143.80" r="3.10" fill="#111111" stroke="none" stroke-width="0"/>
<circle cx="635.62" cy="117.10" r="3.10" fill="#111111" stroke="none" stroke-width="0"/>
<circle cx="653.40" cy="95.70" r="3.10" fill="#111111" stroke="none" stroke-width="0"/>
<circle cx="671.18" cy="67.40" r="3.10" fill="#111111" stroke="none" stroke-width="0"/>
<line x1="484.80" y1="45.50" x2="499.70" y2="45.50" stroke="#111111" stroke-width="1.6"/>
<circle cx="492.30" cy="45.50" r="2.90" fill="#111111" stroke="none" stroke-width="0"/>
<text x="506.70" y="49.50" font-size="12.4" text-anchor="start" fill="#1a1a1a">WT</text>
<line x1="484.80" y1="66.80" x2="499.70" y2="66.80" stroke="#e07b3f" stroke-width="1.6"/>
<polygon points="492.3,63.0 488.8,69.3 495.8,69.3" fill="#e07b3f"/>
<text x="506.70" y="71.20" font-size="12.4" text-anchor="start" fill="#1a1a1a">CKO</text>
<text x="660.50" y="50.80" font-size="12.5" text-anchor="middle" fill="#1a1a1a">0.0103</text>
<text x="641.20" y="80.20" font-size="12.5" text-anchor="middle" fill="#1a1a1a">0.0126</text>
<text x="618.20" y="109.80" font-size="12.5" text-anchor="middle" fill="#1a1a1a">0.0040</text>
<line x1="182.00" y1="276.80" x2="182.00" y2="396.70" stroke="#111111" stroke-width="1.3"/>
<line x1="177.00" y1="277.40" x2="182.00" y2="277.40" stroke="#111111" stroke-width="1.3"/>
<text x="174.20" y="281.80" font-size="12.4" text-anchor="end" fill="#1a1a1a">20</text>
<line x1="177.00" y1="307.07" x2="182.00" y2="307.07" stroke="#111111" stroke-width="1.3"/>
<text x="174.20" y="311.47" font-size="12.4" text-anchor="end" fill="#1a1a1a">15</text>
<line x1="177.00" y1="336.75" x2="182.00" y2="336.75" stroke="#111111" stroke-width="1.3"/>
<text x="174.20" y="341.15" font-size="12.4" text-anchor="end" fill="#1a1a1a">10</text>
<line x1="177.00" y1="366.43" x2="182.00" y2="366.43" stroke="#111111" stroke-width="1.3"/>
<text x="174.20" y="370.82" font-size="12.4" text-anchor="end" fill="#1a1a1a">5</text>
<line x1="177.00" y1="396.10" x2="182.00" y2="396.10" stroke="#111111" stroke-width="1.3"/>
<text x="174.20" y="400.50" font-size="12.4" text-anchor="end" fill="#1a1a1a">0</text>
<line x1="182.00" y1="396.10" x2="261.50" y2="396.10" stroke="#111111" stroke-width="1.3"/>
<line x1="204.40" y1="396.10" x2="204.40" y2="401.10" stroke="#111111" stroke-width="1.3"/>
<line x1="238.00" y1="396.10" x2="238.00" y2="401.10" stroke="#111111" stroke-width="1.3"/>
<text x="207.20" y="413.50" font-size="12.4" text-anchor="middle" fill="#1a1a1a">WT</text>
<text x="241.80" y="413.50" font-size="12.4" text-anchor="middle" fill="#1a1a1a">CKO</text>
<text x="221.70" y="261.00" font-size="12.2" text-anchor="middle" font-weight="bold" fill="#1a1a1a">IFN-γ</text>
<text x="221.00" y="288.50" font-size="12.4" text-anchor="middle" fill="#1a1a1a">0.0210</text>
<polyline points="204.40,341.50 204.40,294.80 238.00,294.80 238.00,301.80" stroke="#111111" stroke-width="1.2" fill="none" stroke-linejoin="miter"/>
<text x="154.40" y="331.60" font-size="12.4" text-anchor="middle" fill="#1a1a1a" transform="rotate(-90 154.40 331.60)">% of CD8</text>
<line x1="204.70" y1="349.40" x2="204.70" y2="349.40" stroke="#3a2960" stroke-width="1.4"/>
<line x1="204.70" y1="353.40" x2="204.70" y2="353.40" stroke="#3a2960" stroke-width="1.4"/>
<line x1="199.70" y1="349.40" x2="209.70" y2="349.40" stroke="#3a2960" stroke-width="1.4"/>
<line x1="199.70" y1="353.40" x2="209.70" y2="353.40" stroke="#3a2960" stroke-width="1.4"/>
<rect x="194.20" y="349.40" width="21.00" height="4.00" stroke="#3a2960" stroke-width="1.45" fill="white"/>
<line x1="194.20" y1="351.40" x2="215.20" y2="351.40" stroke="#3a2960" stroke-width="1.4"/>
<circle cx="197.00" cy="351.40" r="2.60" fill="#3a2960" stroke="none" stroke-width="0"/>
<circle cx="204.30" cy="349.20" r="2.60" fill="#3a2960" stroke="none" stroke-width="0"/>
<circle cx="209.00" cy="352.00" r="2.60" fill="#3a2960" stroke="none" stroke-width="0"/>
<circle cx="213.00" cy="351.40" r="2.60" fill="#3a2960" stroke="none" stroke-width="0"/>
<line x1="238.30" y1="309.00" x2="238.30" y2="310.10" stroke="#9e3430" stroke-width="1.4"/>
<line x1="238.30" y1="340.50" x2="238.30" y2="349.10" stroke="#9e3430" stroke-width="1.4"/>
<line x1="233.30" y1="309.00" x2="243.30" y2="309.00" stroke="#9e3430" stroke-width="1.4"/>
<line x1="233.30" y1="349.10" x2="243.30" y2="349.10" stroke="#9e3430" stroke-width="1.4"/>
<rect x="227.60" y="310.10" width="21.40" height="30.40" stroke="#9e3430" stroke-width="1.45" fill="white"/>
<line x1="227.60" y1="315.00" x2="249.00" y2="315.00" stroke="#9e3430" stroke-width="1.4"/>
<rect x="231.70" y="308.30" width="4.60" height="4.60" stroke="none" stroke-width="1" fill="#9e3430"/>
<rect x="239.90" y="306.00" width="4.60" height="4.60" stroke="none" stroke-width="1" fill="#9e3430"/>
<rect x="235.80" y="317.20" width="4.60" height="4.60" stroke="none" stroke-width="1" fill="#9e3430"/>
<rect x="235.80" y="346.80" width="4.60" height="4.60" stroke="none" stroke-width="1" fill="#9e3430"/>
<line x1="317.40" y1="276.80" x2="317.40" y2="396.70" stroke="#111111" stroke-width="1.3"/>
<line x1="312.40" y1="277.40" x2="317.40" y2="277.40" stroke="#111111" stroke-width="1.3"/>
<text x="309.60" y="281.80" font-size="12.4" text-anchor="end" fill="#1a1a1a">40</text>
<line x1="312.40" y1="307.07" x2="317.40" y2="307.07" stroke="#111111" stroke-width="1.3"/>
<text x="309.60" y="311.47" font-size="12.4" text-anchor="end" fill="#1a1a1a">30</text>
<line x1="312.40" y1="336.75" x2="317.40" y2="336.75" stroke="#111111" stroke-width="1.3"/>
<text x="309.60" y="341.15" font-size="12.4" text-anchor="end" fill="#1a1a1a">20</text>
<line x1="312.40" y1="366.43" x2="317.40" y2="366.43" stroke="#111111" stroke-width="1.3"/>
<text x="309.60" y="370.82" font-size="12.4" text-anchor="end" fill="#1a1a1a">10</text>
<line x1="312.40" y1="396.10" x2="317.40" y2="396.10" stroke="#111111" stroke-width="1.3"/>
<text x="309.60" y="400.50" font-size="12.4" text-anchor="end" fill="#1a1a1a">0</text>
<line x1="317.40" y1="396.10" x2="397.00" y2="396.10" stroke="#111111" stroke-width="1.3"/>
<line x1="339.80" y1="396.10" x2="339.80" y2="401.10" stroke="#111111" stroke-width="1.3"/>
<line x1="373.60" y1="396.10" x2="373.60" y2="401.10" stroke="#111111" stroke-width="1.3"/>
<text x="342.60" y="413.50" font-size="12.4" text-anchor="middle" fill="#1a1a1a">WT</text>
<text x="377.40" y="413.50" font-size="12.4" text-anchor="middle" fill="#1a1a1a">CKO</text>
<text x="361.00" y="260.50" font-size="12.2" text-anchor="middle" font-weight="bold" fill="#1a1a1a">TNF-α</text>
<text x="360.70" y="292.50" font-size="12.4" text-anchor="middle" fill="#1a1a1a">0.0205</text>
<polyline points="339.80,339.00 339.80,294.80 373.60,294.80 373.60,302.40" stroke="#111111" stroke-width="1.2" fill="none" stroke-linejoin="miter"/>
<text x="289.90" y="331.60" font-size="12.4" text-anchor="middle" fill="#1a1a1a" transform="rotate(-90 289.90 331.60)">% of CD8</text>
<line x1="339.70" y1="345.60" x2="339.70" y2="348.40" stroke="#3a2960" stroke-width="1.4"/>
<line x1="339.70" y1="359.10" x2="339.70" y2="362.00" stroke="#3a2960" stroke-width="1.4"/>
<line x1="334.70" y1="345.60" x2="344.70" y2="345.60" stroke="#3a2960" stroke-width="1.4"/>
<line x1="334.70" y1="362.00" x2="344.70" y2="362.00" stroke="#3a2960" stroke-width="1.4"/>
<rect x="328.90" y="348.40" width="21.60" height="10.70" stroke="#3a2960" stroke-width="1.45" fill="white"/>
<line x1="328.90" y1="353.20" x2="350.50" y2="353.20" stroke="#3a2960" stroke-width="1.4"/>
<circle cx="337.00" cy="348.90" r="2.60" fill="#3a2960" stroke="none" stroke-width="0"/>
<circle cx="344.00" cy="346.70" r="2.60" fill="#3a2960" stroke="none" stroke-width="0"/>
<circle cx="340.20" cy="355.40" r="2.60" fill="#3a2960" stroke="none" stroke-width="0"/>
<circle cx="339.80" cy="360.90" r="2.60" fill="#3a2960" stroke="none" stroke-width="0"/>
<line x1="374.40" y1="309.00" x2="374.40" y2="314.60" stroke="#9e3430" stroke-width="1.4"/>
<line x1="374.40" y1="339.00" x2="374.40" y2="339.00" stroke="#9e3430" stroke-width="1.4"/>
<line x1="369.40" y1="309.00" x2="379.40" y2="309.00" stroke="#9e3430" stroke-width="1.4"/>
<line x1="369.40" y1="339.00" x2="379.40" y2="339.00" stroke="#9e3430" stroke-width="1.4"/>
<rect x="363.80" y="314.60" width="21.20" height="24.40" stroke="#9e3430" stroke-width="1.45" fill="white"/>
<line x1="363.80" y1="334.30" x2="385.00" y2="334.30" stroke="#9e3430" stroke-width="1.4"/>
<rect x="370.70" y="306.70" width="4.60" height="4.60" stroke="none" stroke-width="1" fill="#9e3430"/>
<rect x="371.10" y="326.30" width="4.60" height="4.60" stroke="none" stroke-width="1" fill="#9e3430"/>
<rect x="367.00" y="336.70" width="4.60" height="4.60" stroke="none" stroke-width="1" fill="#9e3430"/>
<rect x="375.00" y="336.70" width="4.60" height="4.60" stroke="none" stroke-width="1" fill="#9e3430"/>
<line x1="453.70" y1="281.00" x2="453.70" y2="398.60" stroke="#111111" stroke-width="1.3"/>
<line x1="448.70" y1="281.60" x2="453.70" y2="281.60" stroke="#111111" stroke-width="1.3"/>
<text x="444.30" y="286.00" font-size="12.4" text-anchor="end" fill="#1a1a1a">40</text>
<line x1="448.70" y1="310.70" x2="453.70" y2="310.70" stroke="#111111" stroke-width="1.3"/>
<text x="444.30" y="315.10" font-size="12.4" text-anchor="end" fill="#1a1a1a">30</text>
<line x1="448.70" y1="339.80" x2="453.70" y2="339.80" stroke="#111111" stroke-width="1.3"/>
<text x="444.30" y="344.20" font-size="12.4" text-anchor="end" fill="#1a1a1a">20</text>
<line x1="448.70" y1="368.90" x2="453.70" y2="368.90" stroke="#111111" stroke-width="1.3"/>
<text x="444.30" y="373.30" font-size="12.4" text-anchor="end" fill="#1a1a1a">10</text>
<line x1="448.70" y1="398.00" x2="453.70" y2="398.00" stroke="#111111" stroke-width="1.3"/>
<text x="444.30" y="402.40" font-size="12.4" text-anchor="end" fill="#1a1a1a">0</text>
<line x1="453.70" y1="398.00" x2="531.20" y2="398.00" stroke="#111111" stroke-width="1.3"/>
<line x1="475.60" y1="398.00" x2="475.60" y2="403.00" stroke="#111111" stroke-width="1.3"/>
<line x1="508.40" y1="398.00" x2="508.40" y2="403.00" stroke="#111111" stroke-width="1.3"/>
<text x="478.40" y="415.30" font-size="12.4" text-anchor="middle" fill="#1a1a1a">WT</text>
<text x="512.20" y="415.30" font-size="12.4" text-anchor="middle" fill="#1a1a1a">CKO</text>
<text x="495.80" y="260.20" font-size="12.2" text-anchor="middle" font-weight="bold" fill="#1a1a1a">GzmB</text>
<text x="492.00" y="276.00" font-size="12.4" text-anchor="middle" fill="#1a1a1a">&lt;0.0001</text>
<polyline points="475.60,343.90 475.60,281.50 508.40,281.50 508.40,287.40" stroke="#111111" stroke-width="1.2" fill="none" stroke-linejoin="miter"/>
<text x="424.20" y="335.10" font-size="12.4" text-anchor="middle" fill="#1a1a1a" transform="rotate(-90 424.20 335.10)">% of CD8</text>
<line x1="475.55" y1="350.00" x2="475.55" y2="352.60" stroke="#3a2960" stroke-width="1.4"/>
<line x1="475.55" y1="361.40" x2="475.55" y2="364.00" stroke="#3a2960" stroke-width="1.4"/>
<line x1="470.55" y1="350.00" x2="480.55" y2="350.00" stroke="#3a2960" stroke-width="1.4"/>
<line x1="470.55" y1="364.00" x2="480.55" y2="364.00" stroke="#3a2960" stroke-width="1.4"/>
<rect x="464.60" y="352.60" width="21.90" height="8.80" stroke="#3a2960" stroke-width="1.45" fill="white"/>
<line x1="464.60" y1="356.60" x2="486.50" y2="356.60" stroke="#3a2960" stroke-width="1.4"/>
<circle cx="475.60" cy="350.50" r="2.60" fill="#3a2960" stroke="none" stroke-width="0"/>
<circle cx="475.60" cy="355.00" r="2.60" fill="#3a2960" stroke="none" stroke-width="0"/>
<circle cx="475.60" cy="358.50" r="2.60" fill="#3a2960" stroke="none" stroke-width="0"/>
<circle cx="475.60" cy="363.50" r="2.60" fill="#3a2960" stroke="none" stroke-width="0"/>
<line x1="508.65" y1="290.20" x2="508.65" y2="293.90" stroke="#9e3430" stroke-width="1.4"/>
<line x1="508.65" y1="309.30" x2="508.65" y2="312.80" stroke="#9e3430" stroke-width="1.4"/>
<line x1="503.65" y1="290.20" x2="513.65" y2="290.20" stroke="#9e3430" stroke-width="1.4"/>
<line x1="503.65" y1="312.80" x2="513.65" y2="312.80" stroke="#9e3430" stroke-width="1.4"/>
<rect x="497.90" y="293.90" width="21.50" height="15.40" stroke="#9e3430" stroke-width="1.45" fill="white"/>
<line x1="497.90" y1="302.30" x2="519.40" y2="302.30" stroke="#9e3430" stroke-width="1.4"/>
<rect x="506.10" y="288.20" width="4.60" height="4.60" stroke="none" stroke-width="1" fill="#9e3430"/>
<rect x="506.10" y="295.70" width="4.60" height="4.60" stroke="none" stroke-width="1" fill="#9e3430"/>
<rect x="506.10" y="304.70" width="4.60" height="4.60" stroke="none" stroke-width="1" fill="#9e3430"/>
<rect x="506.10" y="310.20" width="4.60" height="4.60" stroke="none" stroke-width="1" fill="#9e3430"/>
<line x1="589.90" y1="279.00" x2="589.90" y2="398.50" stroke="#111111" stroke-width="1.3"/>
<line x1="584.90" y1="279.60" x2="589.90" y2="279.60" stroke="#111111" stroke-width="1.3"/>
<text x="580.40" y="284.00" font-size="12.4" text-anchor="end" fill="#1a1a1a">25</text>
<line x1="584.90" y1="303.26" x2="589.90" y2="303.26" stroke="#111111" stroke-width="1.3"/>
<text x="580.40" y="307.66" font-size="12.4" text-anchor="end" fill="#1a1a1a">20</text>
<line x1="584.90" y1="326.92" x2="589.90" y2="326.92" stroke="#111111" stroke-width="1.3"/>
<text x="580.40" y="331.32" font-size="12.4" text-anchor="end" fill="#1a1a1a">15</text>
<line x1="584.90" y1="350.58" x2="589.90" y2="350.58" stroke="#111111" stroke-width="1.3"/>
<text x="580.40" y="354.98" font-size="12.4" text-anchor="end" fill="#1a1a1a">10</text>
<line x1="584.90" y1="374.24" x2="589.90" y2="374.24" stroke="#111111" stroke-width="1.3"/>
<text x="580.40" y="378.64" font-size="12.4" text-anchor="end" fill="#1a1a1a">5</text>
<line x1="584.90" y1="397.90" x2="589.90" y2="397.90" stroke="#111111" stroke-width="1.3"/>
<text x="580.40" y="402.30" font-size="12.4" text-anchor="end" fill="#1a1a1a">0</text>
<line x1="589.90" y1="397.90" x2="668.60" y2="397.90" stroke="#111111" stroke-width="1.3"/>
<line x1="612.10" y1="397.90" x2="612.10" y2="402.90" stroke="#111111" stroke-width="1.3"/>
<line x1="646.20" y1="397.90" x2="646.20" y2="402.90" stroke="#111111" stroke-width="1.3"/>
<text x="614.90" y="414.20" font-size="12.4" text-anchor="middle" fill="#1a1a1a">WT</text>
<text x="650.00" y="414.20" font-size="12.4" text-anchor="middle" fill="#1a1a1a">CKO</text>
<text x="626.50" y="260.40" font-size="12.2" text-anchor="middle" font-weight="bold" fill="#1a1a1a">Lamp-1</text>
<text x="629.90" y="274.80" font-size="12.4" text-anchor="middle" fill="#1a1a1a">0.0226</text>
<polyline points="612.10,340.60 612.10,279.30 646.20,279.30 646.20,285.20" stroke="#111111" stroke-width="1.2" fill="none" stroke-linejoin="miter"/>
<text x="559.80" y="333.10" font-size="12.4" text-anchor="middle" fill="#1a1a1a" transform="rotate(-90 559.80 333.10)">% of CD8</text>
<line x1="612.05" y1="345.40" x2="612.05" y2="347.60" stroke="#3a2960" stroke-width="1.4"/>
<line x1="612.05" y1="355.90" x2="612.05" y2="359.20" stroke="#3a2960" stroke-width="1.4"/>
<line x1="607.05" y1="345.40" x2="617.05" y2="345.40" stroke="#3a2960" stroke-width="1.4"/>
<line x1="607.05" y1="359.20" x2="617.05" y2="359.20" stroke="#3a2960" stroke-width="1.4"/>
<rect x="601.10" y="347.60" width="21.90" height="8.30" stroke="#3a2960" stroke-width="1.45" fill="white"/>
<line x1="601.10" y1="349.30" x2="623.00" y2="349.30" stroke="#3a2960" stroke-width="1.4"/>
<circle cx="606.00" cy="345.80" r="2.60" fill="#3a2960" stroke="none" stroke-width="0"/>
<circle cx="612.10" cy="348.50" r="2.60" fill="#3a2960" stroke="none" stroke-width="0"/>
<circle cx="618.00" cy="347.00" r="2.60" fill="#3a2960" stroke="none" stroke-width="0"/>
<circle cx="612.10" cy="359.00" r="2.60" fill="#3a2960" stroke="none" stroke-width="0"/>
<line x1="646.35" y1="290.90" x2="646.35" y2="293.50" stroke="#9e3430" stroke-width="1.4"/>
<line x1="646.35" y1="336.90" x2="646.35" y2="348.20" stroke="#9e3430" stroke-width="1.4"/>
<line x1="641.35" y1="290.90" x2="651.35" y2="290.90" stroke="#9e3430" stroke-width="1.4"/>
<line x1="641.35" y1="348.20" x2="651.35" y2="348.20" stroke="#9e3430" stroke-width="1.4"/>
<rect x="635.70" y="293.50" width="21.30" height="43.40" stroke="#9e3430" stroke-width="1.45" fill="white"/>
<line x1="635.70" y1="301.20" x2="657.00" y2="301.20" stroke="#9e3430" stroke-width="1.4"/>
<rect x="643.90" y="288.70" width="4.60" height="4.60" stroke="none" stroke-width="1" fill="#9e3430"/>
<rect x="643.90" y="294.50" width="4.60" height="4.60" stroke="none" stroke-width="1" fill="#9e3430"/>
<rect x="643.90" y="303.20" width="4.60" height="4.60" stroke="none" stroke-width="1" fill="#9e3430"/>
<rect x="643.90" y="345.90" width="4.60" height="4.60" stroke="none" stroke-width="1" fill="#9e3430"/>
<line x1="181.00" y1="479.00" x2="181.00" y2="601.60" stroke="#111111" stroke-width="1.3"/>
<line x1="176.00" y1="479.60" x2="181.00" y2="479.60" stroke="#111111" stroke-width="1.3"/>
<text x="174.00" y="484.00" font-size="12.4" text-anchor="end" fill="#1a1a1a">0.6</text>
<line x1="176.00" y1="520.07" x2="181.00" y2="520.07" stroke="#111111" stroke-width="1.3"/>
<text x="174.00" y="524.47" font-size="12.4" text-anchor="end" fill="#1a1a1a">0.4</text>
<line x1="176.00" y1="560.53" x2="181.00" y2="560.53" stroke="#111111" stroke-width="1.3"/>
<text x="174.00" y="564.93" font-size="12.4" text-anchor="end" fill="#1a1a1a">0.2</text>
<line x1="176.00" y1="601.00" x2="181.00" y2="601.00" stroke="#111111" stroke-width="1.3"/>
<text x="174.00" y="605.40" font-size="12.4" text-anchor="end" fill="#1a1a1a">0.0</text>
<line x1="181.00" y1="601.00" x2="262.20" y2="601.00" stroke="#111111" stroke-width="1.3"/>
<line x1="203.90" y1="601.00" x2="203.90" y2="606.00" stroke="#111111" stroke-width="1.3"/>
<line x1="238.60" y1="601.00" x2="238.60" y2="606.00" stroke="#111111" stroke-width="1.3"/>
<text x="206.70" y="618.90" font-size="12.4" text-anchor="middle" fill="#1a1a1a">WT</text>
<text x="242.40" y="618.90" font-size="12.4" text-anchor="middle" fill="#1a1a1a">CKO</text>
<text x="218.50" y="457.00" font-size="12.2" text-anchor="middle" font-weight="bold" fill="#1a1a1a">CD8</text>
<text x="225.00" y="470.40" font-size="12.4" text-anchor="middle" fill="#1a1a1a">0.0444</text>
<polyline points="203.90,539.80 203.90,472.60 238.60,472.60 238.60,479.40" stroke="#111111" stroke-width="1.2" fill="none" stroke-linejoin="miter"/>
<text x="149.30" y="531.10" font-size="12.4" text-anchor="middle" fill="#1a1a1a" transform="rotate(-90 149.30 531.10)">% of total</text>
<line x1="203.90" y1="547.70" x2="203.90" y2="547.70" stroke="#3a2960" stroke-width="1.4"/>
<line x1="203.90" y1="570.50" x2="203.90" y2="574.10" stroke="#3a2960" stroke-width="1.4"/>
<line x1="198.90" y1="547.70" x2="208.90" y2="547.70" stroke="#3a2960" stroke-width="1.4"/>
<line x1="198.90" y1="574.10" x2="208.90" y2="574.10" stroke="#3a2960" stroke-width="1.4"/>
<rect x="192.70" y="547.70" width="22.40" height="22.80" stroke="#3a2960" stroke-width="1.45" fill="white"/>
<line x1="192.70" y1="555.50" x2="215.10" y2="555.50" stroke="#3a2960" stroke-width="1.4"/>
<circle cx="200.60" cy="547.70" r="2.60" fill="#3a2960" stroke="none" stroke-width="0"/>
<circle cx="207.30" cy="547.70" r="2.60" fill="#3a2960" stroke="none" stroke-width="0"/>
<circle cx="203.90" cy="564.50" r="2.60" fill="#3a2960" stroke="none" stroke-width="0"/>
<circle cx="203.90" cy="574.10" r="2.60" fill="#3a2960" stroke="none" stroke-width="0"/>
<line x1="238.60" y1="486.80" x2="238.60" y2="490.60" stroke="#9e3430" stroke-width="1.4"/>
<line x1="238.60" y1="546.60" x2="238.60" y2="562.20" stroke="#9e3430" stroke-width="1.4"/>
<line x1="233.60" y1="486.80" x2="243.60" y2="486.80" stroke="#9e3430" stroke-width="1.4"/>
<line x1="233.60" y1="562.20" x2="243.60" y2="562.20" stroke="#9e3430" stroke-width="1.4"/>
<rect x="227.40" y="490.60" width="22.40" height="56.00" stroke="#9e3430" stroke-width="1.45" fill="white"/>
<line x1="227.40" y1="499.50" x2="249.80" y2="499.50" stroke="#9e3430" stroke-width="1.4"/>
<rect x="236.30" y="484.50" width="4.60" height="4.60" stroke="none" stroke-width="1" fill="#9e3430"/>
<rect x="232.50" y="495.70" width="4.60" height="4.60" stroke="none" stroke-width="1" fill="#9e3430"/>
<rect x="240.20" y="499.50" width="4.60" height="4.60" stroke="none" stroke-width="1" fill="#9e3430"/>
<rect x="236.30" y="559.90" width="4.60" height="4.60" stroke="none" stroke-width="1" fill="#9e3430"/>
<line x1="322.40" y1="480.60" x2="322.40" y2="600.90" stroke="#111111" stroke-width="1.3"/>
<line x1="317.40" y1="481.20" x2="322.40" y2="481.20" stroke="#111111" stroke-width="1.3"/>
<text x="315.00" y="485.60" font-size="12.4" text-anchor="end" fill="#1a1a1a">25</text>
<line x1="317.40" y1="505.02" x2="322.40" y2="505.02" stroke="#111111" stroke-width="1.3"/>
<text x="315.00" y="509.42" font-size="12.4" text-anchor="end" fill="#1a1a1a">20</text>
<line x1="317.40" y1="528.84" x2="322.40" y2="528.84" stroke="#111111" stroke-width="1.3"/>
<text x="315.00" y="533.24" font-size="12.4" text-anchor="end" fill="#1a1a1a">15</text>
<line x1="317.40" y1="552.66" x2="322.40" y2="552.66" stroke="#111111" stroke-width="1.3"/>
<text x="315.00" y="557.06" font-size="12.4" text-anchor="end" fill="#1a1a1a">10</text>
<line x1="317.40" y1="576.48" x2="322.40" y2="576.48" stroke="#111111" stroke-width="1.3"/>
<text x="315.00" y="580.88" font-size="12.4" text-anchor="end" fill="#1a1a1a">5</text>
<line x1="317.40" y1="600.30" x2="322.40" y2="600.30" stroke="#111111" stroke-width="1.3"/>
<text x="315.00" y="604.70" font-size="12.4" text-anchor="end" fill="#1a1a1a">0</text>
<line x1="322.40" y1="600.30" x2="402.60" y2="600.30" stroke="#111111" stroke-width="1.3"/>
<line x1="345.00" y1="600.30" x2="345.00" y2="605.30" stroke="#111111" stroke-width="1.3"/>
<line x1="379.10" y1="600.30" x2="379.10" y2="605.30" stroke="#111111" stroke-width="1.3"/>
<text x="347.80" y="617.30" font-size="12.4" text-anchor="middle" fill="#1a1a1a">WT</text>
<text x="382.90" y="617.30" font-size="12.4" text-anchor="middle" fill="#1a1a1a">CKO</text>
<text x="362.60" y="457.20" font-size="12.2" text-anchor="middle" font-weight="bold" fill="#1a1a1a">Ki67</text>
<text x="363.20" y="476.00" font-size="12.4" text-anchor="middle" fill="#1a1a1a">0.0027</text>
<polyline points="345.00,534.10 345.00,478.60 379.10,478.60 379.10,485.40" stroke="#111111" stroke-width="1.2" fill="none" stroke-linejoin="miter"/>
<text x="293.80" y="534.30" font-size="12.4" text-anchor="middle" fill="#1a1a1a" transform="rotate(-90 293.80 534.30)">% of CD8</text>
<line x1="345.00" y1="541.20" x2="345.00" y2="543.50" stroke="#3a2960" stroke-width="1.4"/>
<line x1="345.00" y1="565.40" x2="345.00" y2="567.80" stroke="#3a2960" stroke-width="1.4"/>
<line x1="340.00" y1="541.20" x2="350.00" y2="541.20" stroke="#3a2960" stroke-width="1.4"/>
<line x1="340.00" y1="567.80" x2="350.00" y2="567.80" stroke="#3a2960" stroke-width="1.4"/>
<rect x="333.70" y="543.50" width="22.60" height="21.90" stroke="#3a2960" stroke-width="1.45" fill="white"/>
<line x1="333.70" y1="556.00" x2="356.30" y2="556.00" stroke="#3a2960" stroke-width="1.4"/>
<circle cx="345.00" cy="541.20" r="2.60" fill="#3a2960" stroke="none" stroke-width="0"/>
<circle cx="345.00" cy="548.90" r="2.60" fill="#3a2960" stroke="none" stroke-width="0"/>
<circle cx="345.00" cy="562.80" r="2.60" fill="#3a2960" stroke="none" stroke-width="0"/>
<circle cx="345.00" cy="567.80" r="2.60" fill="#3a2960" stroke="none" stroke-width="0"/>
<line x1="379.35" y1="492.90" x2="379.35" y2="497.20" stroke="#9e3430" stroke-width="1.4"/>
<line x1="379.35" y1="521.20" x2="379.35" y2="521.20" stroke="#9e3430" stroke-width="1.4"/>
<line x1="374.35" y1="492.90" x2="384.35" y2="492.90" stroke="#9e3430" stroke-width="1.4"/>
<line x1="374.35" y1="521.20" x2="384.35" y2="521.20" stroke="#9e3430" stroke-width="1.4"/>
<rect x="368.50" y="497.20" width="21.70" height="24.00" stroke="#9e3430" stroke-width="1.45" fill="white"/>
<line x1="368.50" y1="514.60" x2="390.20" y2="514.60" stroke="#9e3430" stroke-width="1.4"/>
<rect x="376.80" y="490.60" width="4.60" height="4.60" stroke="none" stroke-width="1" fill="#9e3430"/>
<rect x="376.80" y="505.90" width="4.60" height="4.60" stroke="none" stroke-width="1" fill="#9e3430"/>
<rect x="372.80" y="518.90" width="4.60" height="4.60" stroke="none" stroke-width="1" fill="#9e3430"/>
<rect x="380.30" y="518.90" width="4.60" height="4.60" stroke="none" stroke-width="1" fill="#9e3430"/>
<line x1="459.30" y1="479.40" x2="459.30" y2="600.20" stroke="#111111" stroke-width="1.3"/>
<line x1="454.30" y1="480.00" x2="459.30" y2="480.00" stroke="#111111" stroke-width="1.3"/>
<text x="451.00" y="484.40" font-size="12.4" text-anchor="end" fill="#1a1a1a">50</text>
<line x1="454.30" y1="503.92" x2="459.30" y2="503.92" stroke="#111111" stroke-width="1.3"/>
<text x="451.00" y="508.32" font-size="12.4" text-anchor="end" fill="#1a1a1a">40</text>
<line x1="454.30" y1="527.84" x2="459.30" y2="527.84" stroke="#111111" stroke-width="1.3"/>
<text x="451.00" y="532.24" font-size="12.4" text-anchor="end" fill="#1a1a1a">30</text>
<line x1="454.30" y1="551.76" x2="459.30" y2="551.76" stroke="#111111" stroke-width="1.3"/>
<text x="451.00" y="556.16" font-size="12.4" text-anchor="end" fill="#1a1a1a">20</text>
<line x1="454.30" y1="575.68" x2="459.30" y2="575.68" stroke="#111111" stroke-width="1.3"/>
<text x="451.00" y="580.08" font-size="12.4" text-anchor="end" fill="#1a1a1a">10</text>
<line x1="454.30" y1="599.60" x2="459.30" y2="599.60" stroke="#111111" stroke-width="1.3"/>
<text x="451.00" y="604.00" font-size="12.4" text-anchor="end" fill="#1a1a1a">0</text>
<line x1="459.30" y1="599.60" x2="537.00" y2="599.60" stroke="#111111" stroke-width="1.3"/>
<line x1="481.90" y1="599.60" x2="481.90" y2="604.60" stroke="#111111" stroke-width="1.3"/>
<line x1="515.80" y1="599.60" x2="515.80" y2="604.60" stroke="#111111" stroke-width="1.3"/>
<text x="484.70" y="616.30" font-size="12.4" text-anchor="middle" fill="#1a1a1a">WT</text>
<text x="519.60" y="616.30" font-size="12.4" text-anchor="middle" fill="#1a1a1a">CKO</text>
<text x="502.40" y="457.20" font-size="12.2" text-anchor="middle" font-weight="bold" fill="#1a1a1a">TCF1</text>
<text x="499.80" y="480.00" font-size="12.4" text-anchor="middle" fill="#1a1a1a">0.0054</text>
<polyline points="481.90,523.60 481.90,486.60 515.80,486.60 515.80,492.50" stroke="#111111" stroke-width="1.2" fill="none" stroke-linejoin="miter"/>
<text x="430.60" y="534.30" font-size="12.4" text-anchor="middle" fill="#1a1a1a" transform="rotate(-90 430.60 534.30)">% of CD8</text>
<line x1="481.80" y1="530.60" x2="481.80" y2="533.00" stroke="#3a2960" stroke-width="1.4"/>
<line x1="481.80" y1="548.30" x2="481.80" y2="552.30" stroke="#3a2960" stroke-width="1.4"/>
<line x1="476.80" y1="530.60" x2="486.80" y2="530.60" stroke="#3a2960" stroke-width="1.4"/>
<line x1="476.80" y1="552.30" x2="486.80" y2="552.30" stroke="#3a2960" stroke-width="1.4"/>
<rect x="470.60" y="533.00" width="22.40" height="15.30" stroke="#3a2960" stroke-width="1.45" fill="white"/>
<line x1="470.60" y1="536.50" x2="493.00" y2="536.50" stroke="#3a2960" stroke-width="1.4"/>
<circle cx="481.90" cy="530.60" r="2.60" fill="#3a2960" stroke="none" stroke-width="0"/>
<circle cx="477.70" cy="536.50" r="2.60" fill="#3a2960" stroke="none" stroke-width="0"/>
<circle cx="485.90" cy="537.70" r="2.60" fill="#3a2960" stroke="none" stroke-width="0"/>
<circle cx="481.90" cy="552.30" r="2.60" fill="#3a2960" stroke="none" stroke-width="0"/>
<line x1="516.30" y1="500.50" x2="516.30" y2="504.30" stroke="#9e3430" stroke-width="1.4"/>
<line x1="516.30" y1="518.40" x2="516.30" y2="518.90" stroke="#9e3430" stroke-width="1.4"/>
<line x1="511.30" y1="500.50" x2="521.30" y2="500.50" stroke="#9e3430" stroke-width="1.4"/>
<line x1="511.30" y1="518.90" x2="521.30" y2="518.90" stroke="#9e3430" stroke-width="1.4"/>
<rect x="505.50" y="504.30" width="21.60" height="14.10" stroke="#9e3430" stroke-width="1.45" fill="white"/>
<line x1="505.50" y1="516.50" x2="527.10" y2="516.50" stroke="#9e3430" stroke-width="1.4"/>
<rect x="513.50" y="498.20" width="4.60" height="4.60" stroke="none" stroke-width="1" fill="#9e3430"/>
<rect x="510.20" y="513.00" width="4.60" height="4.60" stroke="none" stroke-width="1" fill="#9e3430"/>
<rect x="510.20" y="516.60" width="4.60" height="4.60" stroke="none" stroke-width="1" fill="#9e3430"/>
<rect x="517.30" y="514.70" width="4.60" height="4.60" stroke="none" stroke-width="1" fill="#9e3430"/>
<line x1="324.70" y1="671.30" x2="324.70" y2="819.50" stroke="#111111" stroke-width="1.3"/>
<line x1="318.70" y1="671.90" x2="324.70" y2="671.90" stroke="#111111" stroke-width="1.3"/>
<text x="314.30" y="676.30" font-size="12.2" text-anchor="end" fill="#1a1a1a">1500</text>
<line x1="318.70" y1="720.90" x2="324.70" y2="720.90" stroke="#111111" stroke-width="1.3"/>
<text x="314.30" y="725.30" font-size="12.2" text-anchor="end" fill="#1a1a1a">1000</text>
<line x1="318.70" y1="769.90" x2="324.70" y2="769.90" stroke="#111111" stroke-width="1.3"/>
<text x="314.30" y="774.30" font-size="12.2" text-anchor="end" fill="#1a1a1a">500</text>
<line x1="318.70" y1="818.90" x2="324.70" y2="818.90" stroke="#111111" stroke-width="1.3"/>
<text x="314.30" y="823.30" font-size="12.2" text-anchor="end" fill="#1a1a1a">0</text>
<line x1="324.70" y1="818.90" x2="535.30" y2="818.90" stroke="#111111" stroke-width="1.3"/>
<line x1="337.90" y1="818.90" x2="337.90" y2="824.90" stroke="#111111" stroke-width="1.3"/>
<text x="338.70" y="837.00" font-size="12.2" text-anchor="middle" fill="#1a1a1a">3</text>
<line x1="358.17" y1="818.90" x2="358.17" y2="824.90" stroke="#111111" stroke-width="1.3"/>
<text x="358.97" y="837.00" font-size="12.2" text-anchor="middle" fill="#1a1a1a">8</text>
<line x1="378.44" y1="818.90" x2="378.44" y2="824.90" stroke="#111111" stroke-width="1.3"/>
<text x="379.24" y="837.00" font-size="12.2" text-anchor="middle" fill="#1a1a1a">13</text>
<line x1="398.71" y1="818.90" x2="398.71" y2="824.90" stroke="#111111" stroke-width="1.3"/>
<text x="399.51" y="837.00" font-size="12.2" text-anchor="middle" fill="#1a1a1a">14</text>
<line x1="418.98" y1="818.90" x2="418.98" y2="824.90" stroke="#111111" stroke-width="1.3"/>
<text x="419.78" y="837.00" font-size="12.2" text-anchor="middle" fill="#1a1a1a">17</text>
<line x1="439.25" y1="818.90" x2="439.25" y2="824.90" stroke="#111111" stroke-width="1.3"/>
<text x="440.05" y="837.00" font-size="12.2" text-anchor="middle" fill="#1a1a1a">19</text>
<line x1="459.52" y1="818.90" x2="459.52" y2="824.90" stroke="#111111" stroke-width="1.3"/>
<text x="460.32" y="837.00" font-size="12.2" text-anchor="middle" fill="#1a1a1a">21</text>
<line x1="479.79" y1="818.90" x2="479.79" y2="824.90" stroke="#111111" stroke-width="1.3"/>
<text x="480.59" y="837.00" font-size="12.2" text-anchor="middle" fill="#1a1a1a">24</text>
<line x1="500.06" y1="818.90" x2="500.06" y2="824.90" stroke="#111111" stroke-width="1.3"/>
<text x="500.86" y="837.00" font-size="12.2" text-anchor="middle" fill="#1a1a1a">26</text>
<line x1="520.33" y1="818.90" x2="520.33" y2="824.90" stroke="#111111" stroke-width="1.3"/>
<text x="521.13" y="837.00" font-size="12.2" text-anchor="middle" fill="#1a1a1a">28</text>
<text x="286.30" y="738.20" font-size="13.0" text-anchor="middle" fill="#1a1a1a" transform="rotate(-90 286.30 738.20)">Tumor size (mm<tspan font-size="9.5" dy="-5">3</tspan><tspan dy="5">)</tspan></text>
<text x="426.50" y="855.00" font-size="11.8" text-anchor="middle" fill="#1a1a1a">Days after injection</text>
<polyline points="337.90,817.30 358.17,814.20 378.44,813.20 398.71,808.30 418.98,800.50 439.25,793.00 459.52,777.10 479.79,769.30 500.06,754.00 520.33,737.60" stroke="#d43a3a" stroke-width="1.4" fill="none"/>
<line x1="418.98" y1="797.00" x2="418.98" y2="804.00" stroke="#d43a3a" stroke-width="1.1"/>
<line x1="416.38" y1="797.00" x2="421.58" y2="797.00" stroke="#d43a3a" stroke-width="1.1"/>
<line x1="416.38" y1="804.00" x2="421.58" y2="804.00" stroke="#d43a3a" stroke-width="1.1"/>
<line x1="439.25" y1="790.00" x2="439.25" y2="796.00" stroke="#d43a3a" stroke-width="1.1"/>
<line x1="436.65" y1="790.00" x2="441.85" y2="790.00" stroke="#d43a3a" stroke-width="1.1"/>
<line x1="436.65" y1="796.00" x2="441.85" y2="796.00" stroke="#d43a3a" stroke-width="1.1"/>
<line x1="459.52" y1="772.20" x2="459.52" y2="781.40" stroke="#d43a3a" stroke-width="1.1"/>
<line x1="456.92" y1="772.20" x2="462.12" y2="772.20" stroke="#d43a3a" stroke-width="1.1"/>
<line x1="456.92" y1="781.40" x2="462.12" y2="781.40" stroke="#d43a3a" stroke-width="1.1"/>
<line x1="479.79" y1="764.10" x2="479.79" y2="775.10" stroke="#d43a3a" stroke-width="1.1"/>
<line x1="477.19" y1="764.10" x2="482.39" y2="764.10" stroke="#d43a3a" stroke-width="1.1"/>
<line x1="477.19" y1="775.10" x2="482.39" y2="775.10" stroke="#d43a3a" stroke-width="1.1"/>
<line x1="500.06" y1="746.80" x2="500.06" y2="761.20" stroke="#d43a3a" stroke-width="1.1"/>
<line x1="497.46" y1="746.80" x2="502.66" y2="746.80" stroke="#d43a3a" stroke-width="1.1"/>
<line x1="497.46" y1="761.20" x2="502.66" y2="761.20" stroke="#d43a3a" stroke-width="1.1"/>
<line x1="520.33" y1="732.40" x2="520.33" y2="743.40" stroke="#d43a3a" stroke-width="1.1"/>
<line x1="517.73" y1="732.40" x2="522.93" y2="732.40" stroke="#d43a3a" stroke-width="1.1"/>
<line x1="517.73" y1="743.40" x2="522.93" y2="743.40" stroke="#d43a3a" stroke-width="1.1"/>
<rect x="334.90" y="814.30" width="6.00" height="6.00" stroke="none" stroke-width="1" fill="#d43a3a"/>
<rect x="355.17" y="811.20" width="6.00" height="6.00" stroke="none" stroke-width="1" fill="#d43a3a"/>
<rect x="375.44" y="810.20" width="6.00" height="6.00" stroke="none" stroke-width="1" fill="#d43a3a"/>
<rect x="395.71" y="805.30" width="6.00" height="6.00" stroke="none" stroke-width="1" fill="#d43a3a"/>
<rect x="415.98" y="797.50" width="6.00" height="6.00" stroke="none" stroke-width="1" fill="#d43a3a"/>
<rect x="436.25" y="790.00" width="6.00" height="6.00" stroke="none" stroke-width="1" fill="#d43a3a"/>
<rect x="456.52" y="774.10" width="6.00" height="6.00" stroke="none" stroke-width="1" fill="#d43a3a"/>
<rect x="476.79" y="766.30" width="6.00" height="6.00" stroke="none" stroke-width="1" fill="#d43a3a"/>
<rect x="497.06" y="751.00" width="6.00" height="6.00" stroke="none" stroke-width="1" fill="#d43a3a"/>
<rect x="517.33" y="734.60" width="6.00" height="6.00" stroke="none" stroke-width="1" fill="#d43a3a"/>
<polyline points="337.90,817.50 358.17,813.70 378.44,812.60 398.71,808.00 418.98,800.20 439.25,786.60 459.52,762.10 479.79,748.90 500.06,725.80 520.33,690.60" stroke="#111111" stroke-width="1.4" fill="none"/>
<line x1="418.98" y1="796.00" x2="418.98" y2="804.00" stroke="#111111" stroke-width="1.1"/>
<line x1="416.38" y1="796.00" x2="421.58" y2="796.00" stroke="#111111" stroke-width="1.1"/>
<line x1="416.38" y1="804.00" x2="421.58" y2="804.00" stroke="#111111" stroke-width="1.1"/>
<line x1="439.25" y1="779.10" x2="439.25" y2="793.00" stroke="#111111" stroke-width="1.1"/>
<line x1="436.65" y1="779.10" x2="441.85" y2="779.10" stroke="#111111" stroke-width="1.1"/>
<line x1="436.65" y1="793.00" x2="441.85" y2="793.00" stroke="#111111" stroke-width="1.1"/>
<line x1="459.52" y1="753.20" x2="459.52" y2="771.30" stroke="#111111" stroke-width="1.1"/>
<line x1="456.92" y1="753.20" x2="462.12" y2="753.20" stroke="#111111" stroke-width="1.1"/>
<line x1="456.92" y1="771.30" x2="462.12" y2="771.30" stroke="#111111" stroke-width="1.1"/>
<line x1="479.79" y1="738.20" x2="479.79" y2="759.80" stroke="#111111" stroke-width="1.1"/>
<line x1="477.19" y1="738.20" x2="482.39" y2="738.20" stroke="#111111" stroke-width="1.1"/>
<line x1="477.19" y1="759.80" x2="482.39" y2="759.80" stroke="#111111" stroke-width="1.1"/>
<line x1="500.06" y1="717.10" x2="500.06" y2="734.40" stroke="#111111" stroke-width="1.1"/>
<line x1="497.46" y1="717.10" x2="502.66" y2="717.10" stroke="#111111" stroke-width="1.1"/>
<line x1="497.46" y1="734.40" x2="502.66" y2="734.40" stroke="#111111" stroke-width="1.1"/>
<line x1="520.33" y1="682.60" x2="520.33" y2="699.30" stroke="#111111" stroke-width="1.1"/>
<line x1="517.73" y1="682.60" x2="522.93" y2="682.60" stroke="#111111" stroke-width="1.1"/>
<line x1="517.73" y1="699.30" x2="522.93" y2="699.30" stroke="#111111" stroke-width="1.1"/>
<circle cx="337.90" cy="817.50" r="3.10" fill="#111111" stroke="none" stroke-width="0"/>
<circle cx="358.17" cy="813.70" r="3.10" fill="#111111" stroke="none" stroke-width="0"/>
<circle cx="378.44" cy="812.60" r="3.10" fill="#111111" stroke="none" stroke-width="0"/>
<circle cx="398.71" cy="808.00" r="3.10" fill="#111111" stroke="none" stroke-width="0"/>
<circle cx="418.98" cy="800.20" r="3.10" fill="#111111" stroke="none" stroke-width="0"/>
<circle cx="439.25" cy="786.60" r="3.10" fill="#111111" stroke="none" stroke-width="0"/>
<circle cx="459.52" cy="762.10" r="3.10" fill="#111111" stroke="none" stroke-width="0"/>
<circle cx="479.79" cy="748.90" r="3.10" fill="#111111" stroke="none" stroke-width="0"/>
<circle cx="500.06" cy="725.80" r="3.10" fill="#111111" stroke="none" stroke-width="0"/>
<circle cx="520.33" cy="690.60" r="3.10" fill="#111111" stroke="none" stroke-width="0"/>
<line x1="335.60" y1="680.50" x2="350.00" y2="680.50" stroke="#111111" stroke-width="1.6"/>
<circle cx="342.80" cy="680.50" r="2.90" fill="#111111" stroke="none" stroke-width="0"/>
<text x="358.70" y="685.00" font-size="11.3" text-anchor="start" fill="#1a1a1a">TCR+shNT</text>
<line x1="335.60" y1="700.10" x2="350.00" y2="700.10" stroke="#d43a3a" stroke-width="1.6"/>
<rect x="339.70" y="697.00" width="6.20" height="6.20" stroke="none" stroke-width="1" fill="#d43a3a"/>
<text x="358.70" y="704.60" font-size="11.3" text-anchor="start" fill="#1a1a1a">TCR+shSARDH</text>
<text x="523.30" y="680.80" font-size="12.2" text-anchor="middle" fill="#1a1a1a">0.0096</text>
<path d="M368.55,792.00 L373.05,792.00 L373.05,804.70 L373.90,804.70 L370.80,811.00 L367.70,804.70 L368.55,804.70 Z" fill="#111"/>
<path d="M429.85,766.00 L434.35,766.00 L434.35,778.70 L435.20,778.70 L432.10,785.00 L429.00,778.70 L429.85,778.70 Z" fill="#111"/>
<path d="M498.15,695.50 L502.65,695.50 L502.65,708.40 L503.50,708.40 L500.40,714.70 L497.30,708.40 L498.15,708.40 Z" fill="#111"/>
<line x1="593.20" y1="668.40" x2="593.20" y2="797.80" stroke="#111111" stroke-width="1.3"/>
<line x1="587.20" y1="669.00" x2="593.20" y2="669.00" stroke="#111111" stroke-width="1.3"/>
<text x="585.30" y="673.50" font-size="12.8" text-anchor="end" fill="#1a1a1a">3</text>
<line x1="587.20" y1="711.70" x2="593.20" y2="711.70" stroke="#111111" stroke-width="1.3"/>
<text x="585.30" y="716.20" font-size="12.8" text-anchor="end" fill="#1a1a1a">2</text>
<line x1="587.20" y1="754.50" x2="593.20" y2="754.50" stroke="#111111" stroke-width="1.3"/>
<text x="585.30" y="759.00" font-size="12.8" text-anchor="end" fill="#1a1a1a">1</text>
<line x1="587.20" y1="797.20" x2="593.20" y2="797.20" stroke="#111111" stroke-width="1.3"/>
<text x="585.30" y="801.70" font-size="12.8" text-anchor="end" fill="#1a1a1a">0</text>
<line x1="593.20" y1="797.20" x2="665.50" y2="797.20" stroke="#111111" stroke-width="1.3"/>
<line x1="613.20" y1="797.20" x2="613.20" y2="802.60" stroke="#111111" stroke-width="1.3"/>
<line x1="642.40" y1="797.20" x2="642.40" y2="802.60" stroke="#111111" stroke-width="1.3"/>
<text x="573.20" y="729.00" font-size="12.8" text-anchor="middle" fill="#1a1a1a" transform="rotate(-90 573.20 729.00)">Weight (g)</text>
<polyline points="611.50,681.10 611.50,675.30 641.00,675.30 641.00,718.80" stroke="#111111" stroke-width="1.2" fill="none" stroke-linejoin="miter"/>
<text x="627.40" y="670.40" font-size="12.6" text-anchor="middle" fill="#1a1a1a">0.0090</text>
<line x1="611.60" y1="684.80" x2="611.60" y2="720.40" stroke="#3d2b78" stroke-width="1.1"/>
<line x1="607.30" y1="684.80" x2="616.00" y2="684.80" stroke="#3d2b78" stroke-width="1.1"/>
<line x1="607.30" y1="720.40" x2="616.00" y2="720.40" stroke="#3d2b78" stroke-width="1.1"/>
<line x1="603.10" y1="703.70" x2="620.60" y2="703.70" stroke="#3d2b78" stroke-width="2.0"/>
<circle cx="604.20" cy="687.10" r="3.10" fill="#3d2b78" stroke="none" stroke-width="0"/>
<circle cx="618.80" cy="688.60" r="3.10" fill="#3d2b78" stroke="none" stroke-width="0"/>
<circle cx="611.60" cy="694.10" r="3.10" fill="#3d2b78" stroke="none" stroke-width="0"/>
<circle cx="618.60" cy="719.80" r="3.10" fill="#3d2b78" stroke="none" stroke-width="0"/>
<circle cx="604.50" cy="724.00" r="3.10" fill="#3d2b78" stroke="none" stroke-width="0"/>
<line x1="641.20" y1="728.00" x2="641.20" y2="739.40" stroke="#c33430" stroke-width="1.1"/>
<line x1="637.50" y1="728.00" x2="645.00" y2="728.00" stroke="#c33430" stroke-width="1.1"/>
<line x1="637.50" y1="739.40" x2="645.00" y2="739.40" stroke="#c33430" stroke-width="1.1"/>
<line x1="634.00" y1="735.40" x2="648.50" y2="735.40" stroke="#c33430" stroke-width="2.0"/>
<circle cx="641.20" cy="725.60" r="3.10" fill="#c33430" stroke="none" stroke-width="0"/>
<circle cx="633.70" cy="731.50" r="3.10" fill="#c33430" stroke="none" stroke-width="0"/>
<circle cx="648.60" cy="735.90" r="3.10" fill="#c33430" stroke="none" stroke-width="0"/>
<circle cx="633.70" cy="739.60" r="3.10" fill="#c33430" stroke="none" stroke-width="0"/>
<circle cx="641.20" cy="736.80" r="3.10" fill="#c33430" stroke="none" stroke-width="0"/>
<text x="604.30" y="829.50" font-size="12.8" text-anchor="middle" fill="#1a1a1a" transform="rotate(-45 604.30 829.50)">TCR+shNT</text>
<text x="633.40" y="838.80" font-size="12.8" text-anchor="middle" fill="#1a1a1a" transform="rotate(-45 633.40 838.80)">TCR+shSARDH</text>
<text x="50.40" y="42.80" font-size="12.4" text-anchor="middle" fill="#1a1a1a">MC38-OVA</text>
<line x1="54.20" y1="160.00" x2="54.20" y2="200.00" stroke="#222" stroke-width="1.3"/>
<text x="39.50" y="346.00" font-size="12" text-anchor="middle" fill="#1a1a1a">WT</text>
<text x="85.60" y="346.00" font-size="12" text-anchor="middle" fill="#1a1a1a">CKO</text>
<text x="64.80" y="667.70" font-size="12" text-anchor="middle" fill="#1a1a1a">T cell</text>
<text x="186.00" y="667.30" font-size="12" text-anchor="middle" fill="#1a1a1a">MART-I specific</text>
<line x1="88.10" y1="710.30" x2="125.00" y2="710.30" stroke="#222" stroke-width="1.1"/>
<line x1="186.20" y1="720.10" x2="201.50" y2="729.50" stroke="#222" stroke-width="1.1"/>
<text x="79.20" y="761.30" font-size="12" text-anchor="start" fill="#1a1a1a">MART-I<tspan font-size="8" dy="-5">+</tspan></text>
<text x="79.20" y="776.50" font-size="12" text-anchor="start" fill="#1a1a1a">A375</text>
<line x1="114.70" y1="810.40" x2="133.00" y2="810.40" stroke="#222" stroke-width="1.1"/>
</svg></body></html>
